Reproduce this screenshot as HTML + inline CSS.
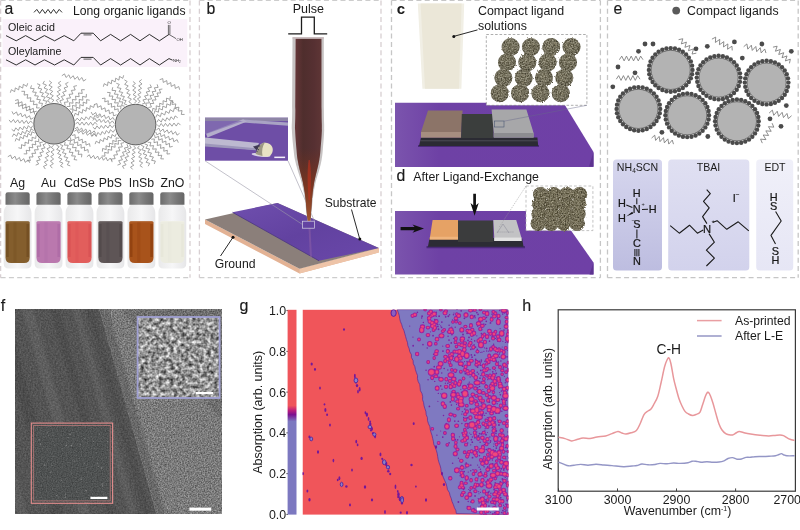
<!DOCTYPE html>
<html><head><meta charset="utf-8"><title>Figure</title>
<style>
html,body{margin:0;padding:0;background:#fff;}
body{width:800px;height:530px;overflow:hidden;}
svg{display:block;}
text{font-family:"Liberation Sans",Arial,sans-serif;fill:#1a1a1a;}
</style></head><body>
<svg width="800" height="530" viewBox="0 0 800 530">

<defs>
<filter id="nzfine" x="0" y="0" width="100%" height="100%"><feTurbulence type="fractalNoise" baseFrequency="0.9" numOctaves="2" seed="3"/><feColorMatrix type="matrix" values="0 0 0 0 0.5  0 0 0 0 0.5  0 0 0 0 0.5  1.2 0 0 0 -0.25"/></filter>
<filter id="nzfine2" x="0" y="0" width="100%" height="100%"><feTurbulence type="fractalNoise" baseFrequency="0.8" numOctaves="2" seed="8"/><feColorMatrix type="matrix" values="0 0 0 0 1  0 0 0 0 1  0 0 0 0 1  2.4 0 0 0 -0.95"/></filter>
<filter id="nzdark" x="0" y="0" width="100%" height="100%"><feTurbulence type="fractalNoise" baseFrequency="0.8" numOctaves="2" seed="11"/><feColorMatrix type="matrix" values="0 0 0 0 0  0 0 0 0 0  0 0 0 0 0  2.0 0 0 0 -0.85"/></filter>
<filter id="nzcoarse" x="0" y="0" width="100%" height="100%"><feTurbulence type="fractalNoise" baseFrequency="0.22" numOctaves="2" seed="5"/><feColorMatrix type="matrix" values="1.9 0 0 0 -0.25  1.9 0 0 0 -0.25  1.9 0 0 0 -0.25  0 0 0 0 1"/></filter>
<filter id="fuzz" x="-10%" y="-10%" width="120%" height="120%" color-interpolation-filters="sRGB"><feTurbulence type="fractalNoise" baseFrequency="0.75" numOctaves="2" seed="2" result="t"/><feDisplacementMap in="SourceGraphic" in2="t" scale="2.4" result="d"/><feColorMatrix in="t" type="matrix" values="1.5 0 0 0 -0.28  1.5 0 0 0 -0.3  1.5 0 0 0 -0.38  0 0 0 0 0.42" result="g"/><feComposite in="g" in2="d" operator="in" result="gi"/><feMerge><feMergeNode in="d"/><feMergeNode in="gi"/></feMerge></filter>
<filter id="blur1"><feGaussianBlur stdDeviation="0.6"/></filter>
<filter id="blur2"><feGaussianBlur stdDeviation="1.2"/></filter>
<linearGradient id="capg" x1="0" x2="1" y1="0" y2="0"><stop offset="0" stop-color="#6c6c6c"/><stop offset="0.4" stop-color="#8b8b8b"/><stop offset="0.7" stop-color="#767676"/><stop offset="1" stop-color="#666"/></linearGradient>
<linearGradient id="glassg" x1="0" x2="1" y1="0" y2="0"><stop offset="0" stop-color="#e9e9ea"/><stop offset="0.5" stop-color="#f6f6f7"/><stop offset="1" stop-color="#e6e6e8"/></linearGradient>
<linearGradient id="nozg" x1="0" x2="1" y1="0" y2="0"><stop offset="0" stop-color="#663638"/><stop offset="0.3" stop-color="#4f2e2d"/><stop offset="0.7" stop-color="#563032"/><stop offset="1" stop-color="#5f3636"/></linearGradient>
<linearGradient id="nozv" x1="0" x2="0" y1="0" y2="1"><stop offset="0" stop-color="#5a2020" stop-opacity="0"/><stop offset="0.6" stop-color="#7a3018" stop-opacity="0"/><stop offset="0.82" stop-color="#8a3a1c" stop-opacity="0.75"/><stop offset="1" stop-color="#a85a30" stop-opacity="0.95"/></linearGradient>
<linearGradient id="purb" x1="0" x2="1" y1="0" y2="1"><stop offset="0" stop-color="#6f4fae"/><stop offset="0.5" stop-color="#6242a0"/><stop offset="1" stop-color="#6a48aa"/></linearGradient>
<linearGradient id="box1" x1="0" x2="0" y1="0" y2="1"><stop offset="0" stop-color="#d6d6ee"/><stop offset="1" stop-color="#bdbde0"/></linearGradient>
<linearGradient id="box2" x1="0" x2="0" y1="0" y2="1"><stop offset="0" stop-color="#e0e0f2"/><stop offset="1" stop-color="#d2d2ec"/></linearGradient>
<linearGradient id="box3" x1="0" x2="0" y1="0" y2="1"><stop offset="0" stop-color="#f0f0f9"/><stop offset="1" stop-color="#e6e6f5"/></linearGradient>
<linearGradient id="cbar" x1="0" x2="0" y1="0" y2="1"><stop offset="0" stop-color="#ef555b"/><stop offset="0.468" stop-color="#ef555b"/><stop offset="0.49" stop-color="#c0207a"/><stop offset="0.512" stop-color="#7a1090"/><stop offset="0.545" stop-color="#7c78c0"/><stop offset="1" stop-color="#7c78c0"/></linearGradient>
<linearGradient id="purc" x1="0" x2="1" y1="0" y2="0"><stop offset="0" stop-color="#7b54ad"/><stop offset="0.22" stop-color="#6e41a5"/><stop offset="1" stop-color="#6f40a6"/></linearGradient>
<radialGradient id="sph" cx="0.45" cy="0.4" r="0.6"><stop offset="0" stop-color="#807c68"/><stop offset="1" stop-color="#625f50"/></radialGradient>
<radialGradient id="sph2" cx="0.45" cy="0.4" r="0.6"><stop offset="0" stop-color="#7a745c"/><stop offset="1" stop-color="#625c48"/></radialGradient>
</defs>
<path d="M0.6 0.4H190M0.6 277.7H190" stroke="#cdcdcd" stroke-width="1.3" stroke-dasharray="5 3.3" fill="none"/>
<path d="M0.6 0.4V277.7M190 0.4V277.7" stroke="#d8cfd2" stroke-width="1.3" stroke-dasharray="5 3.3" fill="none"/>
<path d="M199.4 0.4H381M199.4 277.7H381" stroke="#cdcdcd" stroke-width="1.3" stroke-dasharray="5 3.3" fill="none"/>
<path d="M199.4 0.4V277.7M381 0.4V277.7" stroke="#d8cfd2" stroke-width="1.3" stroke-dasharray="5 3.3" fill="none"/>
<path d="M391.5 0.4H600.4M391.5 277.7H600.4" stroke="#c6c6c6" stroke-width="1.3" stroke-dasharray="5 3.3" fill="none"/>
<path d="M391.5 0.4V277.7M600.4 0.4V277.7" stroke="#c6c6c6" stroke-width="1.3" stroke-dasharray="5 3.3" fill="none"/>
<path d="M607.5 0.4H798.2M607.5 277.7H798.2" stroke="#c6c6c6" stroke-width="1.3" stroke-dasharray="5 3.3" fill="none"/>
<path d="M607.5 0.4V277.7M798.2 0.4V277.7" stroke="#c6c6c6" stroke-width="1.3" stroke-dasharray="5 3.3" fill="none"/>
<g id="pa">
<rect x="2.5" y="19.2" width="184.8" height="47.8" fill="#faf1fa"/>
<text x="4.5" y="14.2" font-size="15.8" stroke="#1a1a1a" stroke-width="0.15">a</text>
<path d="M34 12.4 L36.8 9.4 L39.6 13.4 L42.4 9.4 L45.2 13.4 L48 9.4 L50.8 13.4 L53.6 9.4 L56.4 13.4 L59.2 9.4 L62 12.4" stroke="#333" stroke-width="1" fill="none" stroke-linejoin="round"/>
<text x="73" y="14.8" font-size="12.2">Long organic ligands</text>
<text x="8" y="31.2" font-size="10.7">Oleic acid</text>
<text x="8" y="55.3" font-size="10.7">Oleylamine</text>
<path d="M6 35.6 L16.2 40.8 L25.6 35.6 L35 40.8 L44.4 35.6 L54.6 40.8 L64.2 35.6 L73.8 40.8 L81 33.2 L93.2 33.2 L100.6 40.8 L110.6 34.4 L120.6 40.8 L130.6 34.4 L140 40.8 L149.4 34.4 L159.4 40.8 L169 34.4" stroke="#2e2e2e" stroke-width="1.0" fill="none" stroke-linejoin="round"/><path d="M83.5 34.9 H91.5" stroke="#2e2e2e" stroke-width="0.8"/>
<path d="M169 34.4 L176 38.6 M168.4 34.4 V24.9 M169.9 34.4 V24.9" stroke="#2e2e2e" stroke-width="0.7" fill="none"/>
<text x="169.1" y="24.2" font-size="4.2" text-anchor="middle">O</text>
<text x="176.4" y="41" font-size="4.2">OH</text>
<path d="M6 59.8 L16.2 65 L25.6 59.8 L35 65 L44.4 59.8 L54.6 65 L64.2 59.8 L73.8 65 L81 57.4 L93.2 57.4 L100.6 65 L110.6 58.6 L120.6 65 L130.6 58.6 L140 65 L149.4 58.6 L159.4 65 L169 58.6" stroke="#2e2e2e" stroke-width="1.0" fill="none" stroke-linejoin="round"/><path d="M83.5 59.1 H91.5" stroke="#2e2e2e" stroke-width="0.8"/>
<path d="M169 58.6 L172.6 60.2" stroke="#2e2e2e" stroke-width="1" fill="none"/>
<text x="173" y="62.2" font-size="4.2">NH<tspan font-size="3" dy="0.8">2</tspan></text>
<path d="M75.49 124.27 L77.68 121.98 L79.79 125.12 L82 122.05 L84.12 125.19 L86.33 122.12 L88.44 125.25 L90.65 122.19 L92.76 125.32 L94.97 122.26 L97.09 124.62 M74.88 128.92 L77.48 127.12 L78.88 130.61 L81.65 128.06 L83.05 131.55 L85.82 129 L87.22 132.49 L89.99 129.94 L91.39 133.44 L94.16 130.88 L95.73 133.62 M74.22 131.33 L76.98 129.61 L78.46 133.16 L81.4 130.68 L82.88 134.23 L85.83 131.76 L87.31 135.31 L90.26 132.83 L91.74 136.39 L94.68 133.91 L96.34 136.71 M72.02 135.51 L75.05 134.65 L75.22 138.41 L78.66 136.9 L78.82 140.65 L82.26 139.14 L82.43 142.89 L85.87 141.38 L86.04 145.13 L89.48 143.62 L90.06 146.71 M70.53 137.43 L70.83 140.56 L74.4 139.36 L74.23 143.12 L77.79 141.92 L77.63 145.67 L81.19 144.47 L81.02 148.22 L84.59 147.02 L84.42 150.78 L87.98 149.58 L88.28 152.71 M67.44 140.54 L70.63 140.72 L69.66 144.39 L73.44 144.07 L72.48 147.74 L76.26 147.43 L75.29 151.1 L79.07 150.78 L78.1 154.45 L81.88 154.13 L81.51 157.3 M65.2 142.04 L64.46 145.13 L68.24 145.21 L66.85 148.73 L70.63 148.81 L69.25 152.33 L73.02 152.41 L71.64 155.93 L75.42 156.01 L74.03 159.53 L77.16 160.04 M59.9 144.48 L62.86 145.6 L60.8 148.77 L64.48 149.61 L62.42 152.77 L66.11 153.61 L64.04 156.78 L67.73 157.62 L65.66 160.78 L69.35 161.62 L67.29 164.79 L70.25 165.92 M56.43 145.15 L59.18 146.68 L56.64 149.44 L60.14 150.79 L57.6 153.55 L61.09 154.91 L58.55 157.67 L62.05 159.02 L59.51 161.78 L63.01 163.14 L60.47 165.9 L63.21 167.42 M53.71 145.22 L51.25 147.37 L54.21 149.85 L50.97 151.96 L53.93 154.44 L50.69 156.55 L53.65 159.03 L50.42 161.14 L53.37 163.62 L50.14 165.72 L52.32 168.16 M48.64 144.53 L50.48 147.18 L47 148.78 L49.61 151.59 L46.13 153.18 L48.73 155.99 L45.25 157.59 L47.86 160.39 L44.38 161.99 L46.98 164.8 L43.51 166.4 L45.35 169.05 M45.95 143.56 L42.99 144.71 L45.07 147.87 L41.39 148.73 L43.47 151.89 L39.79 152.76 L41.86 155.91 L38.18 156.78 L40.26 159.94 L36.58 160.8 L38.66 163.96 L35.7 165.11 M42.9 142.09 L39.71 142.53 L40.91 146.15 L37.09 146.13 L38.29 149.76 L34.47 149.74 L35.67 153.36 L31.85 153.34 L33.05 156.97 L29.23 156.95 L30.43 160.57 L27.24 161.01 M38.62 138.6 L38.8 141.74 L35.09 141.1 L35.82 144.79 L32.11 144.15 L32.84 147.83 L29.14 147.19 L29.87 150.88 L26.16 150.24 L26.89 153.93 L23.74 153.82 M36.09 135.38 L35.65 138.53 L32.1 137.22 L32.11 141 L28.56 139.7 L28.56 143.48 L25.02 142.18 L25.02 145.95 L21.47 144.65 L21.48 148.43 L18.38 147.76 M34.79 133.08 L31.92 131.77 L31.17 135.45 L28 133.43 L27.24 137.11 L24.07 135.09 L23.32 138.78 L20.15 136.75 L19.39 140.44 L16.22 138.41 L15.16 141.38 M33.76 130.5 L30.96 128.89 L29.68 132.49 L26.66 130.14 L25.37 133.74 L22.36 131.39 L21.07 134.99 L18.06 132.64 L16.77 136.24 L13.75 133.89 L12.25 136.75 M32.73 125.69 L31.02 128.34 L28.39 125.65 L26.8 129.07 L24.17 126.37 L22.59 129.79 L19.96 127.1 L18.37 130.52 L15.74 127.82 L14.16 131.24 L11.66 129.31 M32.67 123.4 L30.7 120.91 L28.29 123.82 L26.39 120.55 L23.98 123.46 L22.07 120.19 L19.66 123.11 L17.76 119.84 L15.35 122.75 L13.44 119.48 L11.03 122.39 L9.07 119.9 M33.59 117.72 L30.78 119.32 L29.48 115.71 L26.45 118.05 L25.16 114.44 L22.12 116.78 L20.83 113.17 L17.79 115.51 L16.5 111.91 L13.46 114.25 L11.95 111.38 M34.78 114.52 L33.95 111.4 L30.48 113.02 L30.02 109.23 L26.56 110.85 L26.1 107.05 L22.64 108.68 L22.18 104.88 L18.71 106.51 L18.25 102.71 L15.17 103.66 M36.74 111.17 L33.68 112.09 L33.33 108.31 L29.89 109.9 L29.54 106.12 L26.09 107.71 L25.74 103.93 L22.29 105.52 L21.94 101.74 L18.5 103.33 L18.15 99.55 L15.09 100.47 M39.74 107.91 L36.51 107.93 L37.17 104.16 L33.38 104.71 L34.04 100.94 L30.25 101.5 L30.91 97.73 L27.13 98.28 L27.78 94.52 L24 95.07 L24.66 91.3 L21.43 91.32 M41.56 106.37 L42.55 103.39 L38.81 103.07 L40.47 99.71 L36.74 99.39 L38.4 96.03 L34.66 95.72 L36.32 92.35 L32.59 92.04 L34.25 88.68 L30.51 88.36 L31.5 85.38 M45.55 104.18 L46.85 101.25 L43.15 100.39 L45.17 97.16 L41.46 96.3 L43.48 93.07 L39.77 92.21 L41.79 88.98 L38.08 88.12 L40.1 84.9 L37.11 83.74 M50.39 102.67 L47.56 101.09 L49.97 98.11 L46.39 96.74 L48.8 93.76 L45.22 92.39 L47.63 89.41 L44.06 88.03 L46.47 85.05 L42.89 83.68 L44.55 80.9 M51.82 102.55 L53.85 100.09 L50.51 98.29 L53.31 95.73 L49.97 93.93 L52.77 91.37 L49.43 89.58 L52.23 87.02 L48.89 85.22 L51.69 82.66 L49.12 80.77 M58.3 102.77 L56.25 100.34 L59.58 98.54 L56.76 96.02 L60.09 94.22 L57.27 91.7 L60.61 89.91 L57.78 87.38 L61.12 85.59 L58.29 83.07 L60.86 81.18 M61.32 103.65 L59.82 100.78 L63.47 99.63 L61.24 96.52 L64.89 95.36 L62.65 92.25 L66.3 91.09 L64.07 87.98 L67.72 86.83 L65.49 83.72 L68.4 82.32 M65.19 105.5 L64.36 102.34 L68.2 101.92 L66.7 98.36 L70.54 97.94 L69.04 94.39 L72.88 93.97 L71.37 90.41 L75.22 89.99 L73.71 86.43 L76.89 85.62 M66.82 106.49 L70.04 106.46 L69.31 102.71 L73.09 103.21 L72.36 99.46 L76.15 99.96 L75.42 96.21 L79.2 96.71 L78.47 92.96 L82.26 93.46 L81.52 89.71 L84.74 89.68 M69.58 109.01 L72.82 109.24 L72.43 105.42 L76.18 106.23 L75.8 102.41 L79.55 103.22 L79.16 99.4 L82.91 100.21 L82.53 96.39 L86.28 97.2 L86.41 93.96 M72.53 112.81 L72.88 109.68 L76.43 110.92 L76.31 107.16 L79.86 108.41 L79.75 104.65 L83.3 105.89 L83.18 102.13 L86.73 103.38 L86.62 99.62 L89.71 100.24 M74.24 116.35 L75.1 113.32 L78.39 115.13 L78.9 111.4 L82.2 113.21 L82.71 109.49 L86.01 111.3 L86.52 107.57 L89.81 109.38 L90.32 105.65 L93.62 107.47 L94.48 104.43 M75.29 120.81 L77.15 118.16 L79.86 120.87 L81.61 117.46 L84.32 120.18 L86.06 116.76 L88.77 119.48 L90.52 116.07 L93.22 118.78 L94.97 115.37 L97.68 118.08 L99.55 115.44 M156.96 124.47 L159.18 126.71 L161.2 123.53 L163.45 126.55 L165.47 123.37 L167.71 126.39 L169.73 123.22 L171.98 126.23 L174 123.06 L176.25 126.07 L178.26 122.9 L180.48 125.14 M156.34 129.94 L158.91 128.12 L160.34 131.59 L163.07 129.01 L164.5 132.48 L167.23 129.9 L168.66 133.38 L171.39 130.79 L172.83 134.27 L175.56 131.68 L176.99 135.16 L179.56 133.33 M155.71 131.96 L156.95 134.96 L160.21 132.92 L161.17 136.65 L164.42 134.61 L165.38 138.33 L168.64 136.3 L169.6 140.02 L172.86 137.98 L173.81 141.71 L177.07 139.67 L178.32 142.67 M154.55 134.65 L155.11 137.77 L158.6 136.34 L158.73 140.11 L162.23 138.68 L162.36 142.46 L165.86 141.02 L165.99 144.8 L169.49 143.36 L169.62 147.14 L172.69 146.36 M151.23 139.24 L154.39 138.91 L153.97 142.67 L157.64 141.76 L157.22 145.51 L160.89 144.61 L160.47 148.36 L164.14 147.45 L163.72 151.21 L167.39 150.3 L166.97 154.06 L170.13 153.73 M147.74 142.3 L150.87 142.4 L149.88 146.01 L153.6 145.6 L152.6 149.21 L156.33 148.81 L155.33 152.42 L159.05 152.01 L158.06 155.62 L161.78 155.21 L160.78 158.82 L163.92 158.92 M144.65 143.98 L147.7 144.99 L145.86 148.32 L149.61 148.99 L147.77 152.33 L151.53 153 L149.68 156.34 L153.44 157.01 L151.59 160.35 L155.35 161.01 L154.2 164.02 M141.16 145.3 L144.07 146.65 L141.83 149.73 L145.47 150.83 L143.24 153.91 L146.88 155.01 L144.64 158.09 L148.29 159.19 L146.05 162.27 L149.69 163.37 L148.19 166.2 M139.48 145.67 L137.48 148.15 L140.85 149.9 L138.09 152.49 L141.46 154.23 L138.69 156.83 L142.06 158.57 L139.29 161.16 L142.66 162.91 L139.89 165.5 L142.5 167.35 M133.64 145.88 L135.71 148.26 L132.39 150.04 L135.24 152.5 L131.92 154.28 L134.77 156.74 L131.45 158.52 L134.29 160.98 L130.98 162.76 L133.82 165.22 L130.5 167 L132.58 169.38 M129.59 145.12 L131.17 147.9 L127.57 149.12 L129.89 152.13 L126.29 153.34 L128.61 156.35 L125.01 157.57 L127.33 160.58 L123.73 161.8 L126.05 164.81 L122.45 166.02 L124.03 168.81 M126.96 144.15 L128.13 147.21 L124.36 148.02 L126.24 151.4 L122.47 152.21 L124.34 155.58 L120.57 156.4 L122.45 159.77 L118.68 160.59 L120.56 163.96 L117.49 165.1 M124.06 142.58 L120.88 143.33 L122.34 146.9 L118.5 147.24 L119.95 150.81 L116.11 151.16 L117.57 154.72 L113.73 155.07 L115.18 158.64 L111.35 158.98 L112.14 162.15 M121.39 140.71 L118.16 140.45 L118.51 144.27 L114.77 143.43 L115.13 147.25 L111.39 146.41 L111.74 150.22 L108 149.38 L108.36 153.2 L104.62 152.36 L104.97 156.18 L101.74 155.92 M119.2 138.36 L116.08 137.86 L116.32 141.62 L112.72 140.51 L112.96 144.27 L109.35 143.16 L109.59 146.92 L105.99 145.82 L106.23 149.58 L102.63 148.47 L102.39 151.62 M116.25 133.62 L115.17 136.59 L112 134.56 L111.22 138.24 L108.05 136.21 L107.27 139.89 L104.11 137.86 L103.33 141.54 L100.16 139.51 L99.38 143.19 L96.21 141.16 L95.14 144.13 M114.82 129.57 L113.21 132.3 L110.45 129.72 L109.01 133.21 L106.25 130.64 L104.81 134.12 L102.06 131.55 L100.61 135.03 L97.86 132.46 L96.42 135.94 L93.66 133.37 L92.05 136.1 M114.18 125.17 L112.23 127.67 L109.83 124.77 L107.95 128.04 L105.55 125.13 L103.67 128.41 L101.27 125.5 L99.39 128.77 L96.99 125.87 L95.11 129.14 L92.77 127 M114.17 123.49 L112.36 120.87 L109.76 123.62 L108.06 120.24 L105.46 122.99 L103.76 119.61 L101.16 122.36 L99.46 118.98 L96.86 121.73 L95.16 118.35 L92.67 120.34 M114.58 120.34 L113.05 117.48 L110.03 119.85 L108.72 116.25 L105.7 118.61 L104.38 115.01 L101.36 117.38 L100.04 113.78 L97.03 116.14 L95.71 112.54 L92.69 114.91 L91.16 112.05 M116.61 114.78 L113.53 115.79 L112.97 112 L109.54 113.7 L108.98 109.91 L105.54 111.61 L104.99 107.82 L101.55 109.51 L100.99 105.72 L97.56 107.42 L97 103.63 L93.92 104.64 M118.31 111.95 L118.14 108.81 L114.55 109.87 L114.88 106.14 L111.28 107.2 L111.61 103.46 L108.01 104.52 L108.34 100.79 L104.75 101.85 L105.08 98.11 L101.97 98.57 M120.59 109.26 L121.06 106.12 L117.29 106.36 L118.36 102.74 L114.59 102.98 L115.67 99.36 L111.9 99.61 L112.97 95.98 L109.2 96.23 L110.28 92.61 L107.11 92.37 M124.69 106.18 L121.53 105.52 L122.96 101.98 L119.15 101.73 L120.58 98.18 L116.76 97.94 L118.19 94.39 L114.38 94.14 L115.81 90.6 L111.99 90.35 L112.77 87.22 M127.16 104.96 L124.16 103.83 L126.16 100.6 L122.45 99.78 L124.45 96.55 L120.73 95.72 L122.73 92.49 L119.02 91.67 L121.02 88.44 L117.31 87.62 L119.31 84.38 L116.31 83.26 M131.64 103.55 L128.85 101.9 L131.34 98.99 L127.81 97.53 L130.3 94.62 L126.76 93.15 L129.25 90.24 L125.72 88.78 L128.21 85.87 L124.67 84.4 L127.16 81.5 L124.38 79.85 M134.42 103.26 L136.6 100.92 L133.35 98.95 L136.3 96.56 L133.06 94.59 L136 92.2 L132.76 90.22 L135.71 87.83 L132.47 85.86 L135.41 83.47 L132.94 81.45 M137.7 103.32 L140.24 101.38 L137.38 98.88 L140.68 97.02 L137.82 94.53 L141.13 92.67 L138.27 90.18 L141.57 88.32 L138.71 85.83 L142.02 83.97 L139.16 81.48 L141.69 79.54 M142.04 104.14 L145 103.05 L142.93 99.91 L146.61 99.12 L144.55 95.98 L148.22 95.19 L146.16 92.04 L149.83 91.25 L147.77 88.11 L151.45 87.32 L150.1 84.47 M146.66 106.27 L145.71 103.21 L149.49 102.8 L147.86 99.36 L151.64 98.95 L150.01 95.51 L153.8 95.1 L152.17 91.66 L155.95 91.25 L154.32 87.81 L158.1 87.4 L157.15 84.34 M148.34 107.48 L151.44 107 L150.01 103.54 L153.75 103.49 L152.32 100.02 L156.07 99.98 L154.64 96.51 L158.39 96.46 L156.96 93 L160.7 92.95 L159.28 89.49 L162.37 89.01 M152.49 111.5 L152.8 108.36 L156.36 109.56 L156.21 105.8 L159.78 107.01 L159.62 103.25 L163.19 104.45 L163.03 100.69 L166.6 101.89 L166.45 98.13 L170.01 99.34 L170.32 96.2 M154.06 113.82 L154.89 110.66 L158.42 112.21 L158.86 108.38 L162.39 109.93 L162.84 106.1 L166.37 107.65 L166.81 103.82 L170.34 105.37 L170.78 101.54 L173.93 102.41 M155.8 117.53 L157.14 114.54 L160.39 116.62 L161.45 112.9 L164.71 114.98 L165.77 111.26 L169.02 113.35 L170.08 109.63 L173.34 111.71 L174.4 107.99 L177.38 109.35 M156.93 122.18 L158.52 119.47 L161.24 122.05 L162.67 118.58 L165.4 121.16 L166.83 117.69 L169.55 120.27 L170.98 116.8 L173.71 119.38 L175.14 115.91 L177.7 117.74 M61.84 75.78 L64.51 73.89 L66.04 77.48 L68.87 74.8 L70.4 78.38 L73.24 75.71 L74.76 79.29 L77.6 76.62 L79.13 80.2 L81.96 77.52 L83.49 81.11 L86.16 79.22 M7.79 156.77 L10.62 155.06 L11.98 158.74 L15.02 156.26 L16.38 159.94 L19.42 157.46 L20.78 161.14 L23.82 158.66 L25.18 162.34 L28.22 159.86 L29.79 162.77 M86.87 156.79 L89.34 154.75 L90.91 158.25 L93.5 155.42 L95.08 158.91 L97.67 156.09 L99.25 159.58 L101.84 156.75 L103.41 160.25 L106 157.42 L107.58 160.91 L110.17 158.09 L111.87 160.79 M103.34 86.72 L104.22 83.65 L107.51 85.63 L108.04 81.83 L111.32 83.81 L111.86 80.01 L115.14 81.99 L115.68 78.19 L118.96 80.17 L119.49 76.37 L122.78 78.35 L123.66 75.28 M159.64 79.72 L162.72 78.57 L163.28 82.43 L166.72 80.57 L167.28 84.43 L170.72 82.57 L171.28 86.43 L174.72 84.57 L175.28 88.43 L178.72 86.57 L179.64 89.72 M169.42 100.55 L172.73 100.57 L171.94 104.43 L175.84 103.91 L175.05 107.76 L178.95 107.24 L178.16 111.09 L182.06 110.57 L181.27 114.43 L184.58 114.45 M10.32 92.73 L11.35 89.65 L14.65 91.68 L15.35 87.87 L18.65 89.91 L19.35 86.09 L22.65 88.13 L23.35 84.32 L26.65 86.35 L27.68 83.27" stroke="#848484" stroke-width="0.75" fill="none" stroke-linejoin="round"/>
<circle cx="54.1" cy="123.8" r="20.3" fill="#b4b4b4" stroke="#444" stroke-width="0.8"/>
<circle cx="135.6" cy="124.6" r="20.3" fill="#b4b4b4" stroke="#444" stroke-width="0.8"/>
<text x="17.6" y="187" font-size="12.3" text-anchor="middle">Ag</text>
<path d="M7.1 203 C7.1 207 3.7 207 3.7 213 V263.5 Q3.7 268.6 8.7 268.6 H26.5 Q31.5 268.6 31.5 263.5 V213 C31.5 207 28.1 207 28.1 203 Z" fill="url(#glassg)"/>
<path d="M5.5 222.5 Q5.5 221 7 221 H28.2 Q29.7 221 29.7 222.5 V257.5 Q29.7 263 24.2 263 H11 Q5.5 263 5.5 257.5 Z" fill="#845e2d"/>
<rect x="6.1" y="224" width="2.6" height="33" fill="#6a481c" opacity="0.6"/>
<rect x="26.5" y="224" width="2.6" height="33" fill="#6a481c" opacity="0.6"/>
<rect x="13.5" y="222" width="3" height="40" fill="#6a481c" opacity="0.25"/>
<rect x="5.5" y="221" width="24.2" height="1.2" fill="#fff" opacity="0.18"/>
<path d="M5.5 204.8 V194.6 Q5.5 192.2 7.9 192.2 H27.3 Q29.7 192.2 29.7 194.6 V204.8 Z" fill="url(#capg)"/>
<text x="48.55" y="187" font-size="12.3" text-anchor="middle">Au</text>
<path d="M38.05 203 C38.05 207 34.65 207 34.65 213 V263.5 Q34.65 268.6 39.65 268.6 H57.45 Q62.45 268.6 62.45 263.5 V213 C62.45 207 59.05 207 59.05 203 Z" fill="url(#glassg)"/>
<path d="M36.45 222.5 Q36.45 221 37.95 221 H59.15 Q60.65 221 60.65 222.5 V257.5 Q60.65 263 55.15 263 H41.95 Q36.45 263 36.45 257.5 Z" fill="#ba78ae"/>
<rect x="37.05" y="224" width="2.6" height="33" fill="#a866a2" opacity="0.6"/>
<rect x="57.45" y="224" width="2.6" height="33" fill="#a866a2" opacity="0.6"/>
<rect x="44.45" y="222" width="3" height="40" fill="#a866a2" opacity="0.25"/>
<rect x="36.45" y="221" width="24.2" height="1.2" fill="#fff" opacity="0.18"/>
<path d="M36.45 204.8 V194.6 Q36.45 192.2 38.85 192.2 H58.25 Q60.65 192.2 60.65 194.6 V204.8 Z" fill="url(#capg)"/>
<text x="79.5" y="187" font-size="12.3" text-anchor="middle">CdSe</text>
<path d="M69 203 C69 207 65.6 207 65.6 213 V263.5 Q65.6 268.6 70.6 268.6 H88.4 Q93.4 268.6 93.4 263.5 V213 C93.4 207 90 207 90 203 Z" fill="url(#glassg)"/>
<path d="M67.4 222.5 Q67.4 221 68.9 221 H90.1 Q91.6 221 91.6 222.5 V257.5 Q91.6 263 86.1 263 H72.9 Q67.4 263 67.4 257.5 Z" fill="#e25e5c"/>
<rect x="68" y="224" width="2.6" height="33" fill="#d64c50" opacity="0.6"/>
<rect x="88.4" y="224" width="2.6" height="33" fill="#d64c50" opacity="0.6"/>
<rect x="75.4" y="222" width="3" height="40" fill="#d64c50" opacity="0.25"/>
<rect x="67.4" y="221" width="24.2" height="1.2" fill="#fff" opacity="0.18"/>
<path d="M67.4 204.8 V194.6 Q67.4 192.2 69.8 192.2 H89.2 Q91.6 192.2 91.6 194.6 V204.8 Z" fill="url(#capg)"/>
<text x="110.45" y="187" font-size="12.3" text-anchor="middle">PbS</text>
<path d="M99.95 203 C99.95 207 96.55 207 96.55 213 V263.5 Q96.55 268.6 101.55 268.6 H119.35 Q124.35 268.6 124.35 263.5 V213 C124.35 207 120.95 207 120.95 203 Z" fill="url(#glassg)"/>
<path d="M98.35 222.5 Q98.35 221 99.85 221 H121.05 Q122.55 221 122.55 222.5 V257.5 Q122.55 263 117.05 263 H103.85 Q98.35 263 98.35 257.5 Z" fill="#5e5556"/>
<rect x="98.95" y="224" width="2.6" height="33" fill="#4c4546" opacity="0.6"/>
<rect x="119.35" y="224" width="2.6" height="33" fill="#4c4546" opacity="0.6"/>
<rect x="106.35" y="222" width="3" height="40" fill="#4c4546" opacity="0.25"/>
<rect x="98.35" y="221" width="24.2" height="1.2" fill="#fff" opacity="0.18"/>
<path d="M98.35 204.8 V194.6 Q98.35 192.2 100.75 192.2 H120.15 Q122.55 192.2 122.55 194.6 V204.8 Z" fill="url(#capg)"/>
<text x="141.4" y="187" font-size="12.3" text-anchor="middle">InSb</text>
<path d="M130.9 203 C130.9 207 127.5 207 127.5 213 V263.5 Q127.5 268.6 132.5 268.6 H150.3 Q155.3 268.6 155.3 263.5 V213 C155.3 207 151.9 207 151.9 203 Z" fill="url(#glassg)"/>
<path d="M129.3 222.5 Q129.3 221 130.8 221 H152 Q153.5 221 153.5 222.5 V257.5 Q153.5 263 148 263 H134.8 Q129.3 263 129.3 257.5 Z" fill="#a8531b"/>
<rect x="129.9" y="224" width="2.6" height="33" fill="#86390c" opacity="0.6"/>
<rect x="150.3" y="224" width="2.6" height="33" fill="#86390c" opacity="0.6"/>
<rect x="137.3" y="222" width="3" height="40" fill="#86390c" opacity="0.25"/>
<rect x="129.3" y="221" width="24.2" height="1.2" fill="#fff" opacity="0.18"/>
<path d="M129.3 204.8 V194.6 Q129.3 192.2 131.7 192.2 H151.1 Q153.5 192.2 153.5 194.6 V204.8 Z" fill="url(#capg)"/>
<text x="172.35" y="187" font-size="12.3" text-anchor="middle">ZnO</text>
<path d="M161.85 203 C161.85 207 158.45 207 158.45 213 V263.5 Q158.45 268.6 163.45 268.6 H181.25 Q186.25 268.6 186.25 263.5 V213 C186.25 207 182.85 207 182.85 203 Z" fill="url(#glassg)"/>
<path d="M160.25 222.5 Q160.25 221 161.75 221 H182.95 Q184.45 221 184.45 222.5 V257.5 Q184.45 263 178.95 263 H165.75 Q160.25 263 160.25 257.5 Z" fill="#ecece0"/>
<rect x="160.85" y="224" width="2.6" height="33" fill="#e4e4d6" opacity="0.6"/>
<rect x="181.25" y="224" width="2.6" height="33" fill="#e4e4d6" opacity="0.6"/>
<rect x="168.25" y="222" width="3" height="40" fill="#e4e4d6" opacity="0.25"/>
<rect x="160.25" y="221" width="24.2" height="1.2" fill="#fff" opacity="0.18"/>
<path d="M160.25 204.8 V194.6 Q160.25 192.2 162.65 192.2 H182.05 Q184.45 192.2 184.45 194.6 V204.8 Z" fill="url(#capg)"/>
</g>
<g id="pb">
<text x="206.5" y="14" font-size="15.8" stroke="#1a1a1a" stroke-width="0.15">b</text>
<text x="308.4" y="12.8" font-size="12.5" text-anchor="middle">Pulse</text>
<path d="M288.2 33.8 H301.5 V17.2 H314.3 V33.8 H327.2" stroke="#1c1c1c" stroke-width="1.3" fill="none"/>
<path d="M205 219.5 L299.5 268.8 L378.8 248 V252.6 L299.5 273.40000000000003 L205 224.1 Z" fill="#e3b294"/>
<path d="M299.5 268.8 L378.8 248 V252.6 L299.5 273.40000000000003 Z" fill="#eec4a8"/>
<path d="M205 219.5 L277.5 203 L378.8 248 L299.5 268.8 Z" fill="#8b7f7a"/>
<path d="M232.5 212.3 L277.5 203 L378.8 248 L319 260.8 Z" fill="url(#purb)"/>
<path d="M232.5 212.3 L319 260.8" stroke="#4a3580" stroke-width="0.8"/>
<path d="M308.5 228 L310 258 L312 258 L310.5 228 Z" fill="#9a6aa8" opacity="0.4"/>
<path d="M205 160.8 L302.5 224.5 M288 160.8 L314.5 221" stroke="#9a98a8" stroke-width="0.6" fill="none"/>
<path d="M292.5 37.5 C292.45 49.58 292.3 94.58 292.2 110 C292.1 125.42 291.67 123.33 291.9 130 C292.13 136.67 293.08 145 293.6 150 C294.12 155 294.33 156.67 295 160 C295.67 163.33 296.57 166.45 297.6 170 C298.63 173.55 300.17 177.53 301.2 181.3 C302.23 185.07 303.1 188.82 303.8 192.6 C304.5 196.38 304.93 200.22 305.4 204 C305.87 207.78 306.23 212.47 306.6 215.3 C306.97 218.13 307.43 220.05 307.6 221 L310.5 221 C310.63 220.05 311 218.13 311.3 215.3 C311.6 212.47 311.92 207.78 312.3 204 C312.68 200.22 313.02 196.38 313.6 192.6 C314.18 188.82 314.87 185.07 315.8 181.3 C316.73 177.53 318.23 173.55 319.2 170 C320.17 166.45 321 163.33 321.6 160 C322.2 156.67 322.37 155 322.8 150 C323.23 145 324.02 136.67 324.2 130 C324.38 123.33 323.97 125.42 323.9 110 C323.83 94.58 323.82 49.58 323.8 37.5 Z" fill="#c6c2c2"/>
<path d="M295.63 38.6 C295.59 50.5 295.45 94.77 295.37 110 C295.29 125.23 294.94 123.33 295.13 130 C295.32 136.67 296.1 145 296.52 150 C296.94 155 297.12 156.67 297.66 160 C298.2 163.33 298.93 166.45 299.76 170 C300.59 173.55 301.82 177.53 302.66 181.3 C303.5 185.07 304.21 188.82 304.78 192.6 C305.35 196.38 305.71 200.22 306.09 204 C306.47 207.78 306.77 212.47 307.07 215.3 C307.37 218.13 307.75 220.05 307.89 221 L310.21 221 C310.31 220.05 310.6 218.13 310.83 215.3 C311.06 212.47 311.31 207.78 311.61 204 C311.91 200.22 312.17 196.38 312.62 192.6 C313.07 188.82 313.6 185.07 314.34 181.3 C315.08 177.53 316.22 173.55 317.04 170 C317.86 166.45 318.71 163.33 319.28 160 C319.85 156.67 320.05 155 320.48 150 C320.91 145 321.7 136.67 321.88 130 C322.06 123.33 321.65 125.23 321.58 110 C321.51 94.77 321.5 50.5 321.48 38.6 Z" fill="url(#nozg)"/>
<path d="M295.63 38.6 C295.59 50.5 295.45 94.77 295.37 110 C295.29 125.23 294.94 123.33 295.13 130 C295.32 136.67 296.1 145 296.52 150 C296.94 155 297.12 156.67 297.66 160 C298.2 163.33 298.93 166.45 299.76 170 C300.59 173.55 301.82 177.53 302.66 181.3 C303.5 185.07 304.21 188.82 304.78 192.6 C305.35 196.38 305.71 200.22 306.09 204 C306.47 207.78 306.77 212.47 307.07 215.3 C307.37 218.13 307.75 220.05 307.89 221 L310.21 221 C310.31 220.05 310.6 218.13 310.83 215.3 C311.06 212.47 311.31 207.78 311.61 204 C311.91 200.22 312.17 196.38 312.62 192.6 C313.07 188.82 313.6 185.07 314.34 181.3 C315.08 177.53 316.22 173.55 317.04 170 C317.86 166.45 318.71 163.33 319.28 160 C319.85 156.67 320.05 155 320.48 150 C320.91 145 321.7 136.67 321.88 130 C322.06 123.33 321.65 125.23 321.58 110 C321.51 94.77 321.5 50.5 321.48 38.6 Z" fill="url(#nozv)"/>
<path d="M308.6 160 C307 172 307.6 186 308.5 200 L310 200 C311 186 311.5 172 309.8 160 Z" fill="#c2301f" opacity="0.6" filter="url(#blur1)"/>
<rect x="292.5" y="37.1" width="31.3" height="1.6" fill="#c9babc"/>
<rect x="302.6" y="221.2" width="11.9" height="7" fill="none" stroke="#d8d4e4" stroke-width="0.7"/>
<g>
<rect x="205" y="117.7" width="83" height="43" fill="#6e4ea6"/>
<rect x="205" y="117.7" width="83" height="3.4" fill="#8e86a6"/>
<path d="M243 119.5 L288 122.6 V125.8 L243 122.5 Z" fill="#a9a3c4"/>
<path d="M206 133.5 L243 119.3 L247 121.5 L207.5 137.5 Z" fill="#b4aecb"/>
<path d="M205 137.5 L259 143 L256 150 L205 145.5 Z" fill="#bdb9d0"/>
<path d="M205 143.5 L256 148.2 L256 150.3 L205 146.5 Z" fill="#9d97ba"/>
<path d="M205 121.1 L243 121.1 L206 134 L205 134 Z" fill="#8674b4" opacity="0.7"/>
<ellipse cx="261" cy="155" rx="9.5" ry="1.8" fill="#d6cfe6" transform="rotate(6 261 155)"/>
<path d="M253 146.5 L260 144.5 L259 153 Z" fill="#403a55"/>
<path d="M258.6 147.5 C260 142.8 267.5 140.4 271.3 145.6 C273.8 148.8 273.1 153.1 270 156 C265 157.3 258.8 156.3 255.5 153.8 Z" fill="#e8e2c4"/>
<path d="M258.6 147.5 C260 144.5 262.5 142.8 265 142.3 C262.5 146 261.5 151 262.5 156 C260 155.6 257.3 154.9 255.5 153.8 Z" fill="#9d9884"/>
<g fill="#3c384a"><circle cx="256.5" cy="147.5" r="0.8"/><circle cx="258.3" cy="149.6" r="0.7"/><circle cx="257" cy="151.6" r="0.6"/><circle cx="259.6" cy="146" r="0.6"/></g>
<rect x="274.3" y="156.6" width="10.8" height="1.5" fill="#f4f0fa"/>
</g>
<text x="324.8" y="207" font-size="12.1">Substrate</text>
<path d="M351.5 209.5 L359.6 238.5" stroke="#111" stroke-width="0.9"/><circle cx="359.8" cy="239" r="1.5" fill="#111"/>
<text x="214.8" y="267.6" font-size="12.2">Ground</text>
<path d="M220.5 256 L232.8 237.6" stroke="#111" stroke-width="0.9"/><circle cx="233" cy="237.2" r="1.5" fill="#111"/>
</g>
<g id="pcd">
<text x="396.8" y="13.8" font-size="15" font-weight="bold">c</text>
<path d="M417.8 3.4 H464.2 L461.4 88.7 H422.4 Z" fill="#f1efe5"/>
<path d="M420.6 3.4 H461.6 L459 88.7 H425 Z" fill="#ebe7d8"/>
<text x="478" y="14.9" font-size="12.4">Compact ligand</text>
<text x="478" y="29.8" font-size="12.4">solutions</text>
<path d="M454 36.3 L477.5 29.9" stroke="#111" stroke-width="0.9"/><circle cx="453.8" cy="36.4" r="1.5" fill="#111"/>
<path d="M395 102.8 H563.5 L593.5 152 V167 H395 Z" fill="url(#purc)"/>
<path d="M593.5 152 V166.6 H589 Z" fill="#5d3390"/>
<path d="M418 145 H539 V147 H418 Z" fill="#4a2a78" filter="url(#blur1)"/><path d="M421 137.6 H537.4 L538.2 146 H419 Z" fill="#2b2b33"/>
<path d="M420.3 140.8 H537.8" stroke="#565660" stroke-width="0.8"/>
<path d="M428 110.6 H462.6 L461 137.4 H421 V132 Z" fill="#8c7468"/>
<path d="M421 132 H461.2 L461 137.4 H421 Z" fill="#a68e80"/>
<path d="M461.8 114 H493.6 V138 H461 Z" fill="#3b3e3d"/>
<path d="M491.6 109.4 H526.4 L533.6 133 V137.4 H493.8 V133 Z" fill="#a7a7a9"/>
<path d="M493.8 133 H533.6 V137.4 H493.8 Z" fill="#8c8c90"/>
<rect x="486.3" y="34.5" width="100.6" height="70.8" fill="#fff" stroke="#777" stroke-width="0.6" stroke-dasharray="2.6 1.8"/>
<g filter="url(#fuzz)">
<circle cx="510.6" cy="47" r="9.0" fill="url(#sph)"/>
<circle cx="530.9" cy="47" r="9.0" fill="url(#sph)"/>
<circle cx="551.2" cy="47" r="9.0" fill="url(#sph)"/>
<circle cx="571.5" cy="47" r="9.0" fill="url(#sph)"/>
<circle cx="507" cy="62.4" r="9.0" fill="url(#sph)"/>
<circle cx="527.3" cy="62.4" r="9.0" fill="url(#sph)"/>
<circle cx="547.6" cy="62.4" r="9.0" fill="url(#sph)"/>
<circle cx="567.9" cy="62.4" r="9.0" fill="url(#sph)"/>
<circle cx="503.4" cy="77.8" r="9.0" fill="url(#sph)"/>
<circle cx="523.7" cy="77.8" r="9.0" fill="url(#sph)"/>
<circle cx="544" cy="77.8" r="9.0" fill="url(#sph)"/>
<circle cx="564.3" cy="77.8" r="9.0" fill="url(#sph)"/>
<circle cx="499.8" cy="93.2" r="9.0" fill="url(#sph)"/>
<circle cx="520.1" cy="93.2" r="9.0" fill="url(#sph)"/>
<circle cx="540.4" cy="93.2" r="9.0" fill="url(#sph)"/>
<circle cx="560.7" cy="93.2" r="9.0" fill="url(#sph)"/>
</g>
<g opacity="0.7"><circle cx="511.08" cy="53.29" r="0.96" fill="#5a5443"/><circle cx="504.17" cy="48.07" r="0.95" fill="#4e4838"/><circle cx="504.37" cy="48.23" r="1" fill="#a09880"/><circle cx="502.92" cy="48.46" r="0.7" fill="#928a70"/><circle cx="533.54" cy="43.84" r="0.93" fill="#a09880"/><circle cx="523.61" cy="45.94" r="0.58" fill="#4e4838"/><circle cx="532.6" cy="46.53" r="0.91" fill="#4e4838"/><circle cx="530.1" cy="53.55" r="0.86" fill="#928a70"/><circle cx="555.92" cy="44.43" r="0.98" fill="#928a70"/><circle cx="554.64" cy="50.86" r="0.57" fill="#4e4838"/><circle cx="552.94" cy="55.22" r="0.89" fill="#928a70"/><circle cx="554.6" cy="42.61" r="0.79" fill="#928a70"/><circle cx="566.16" cy="45.85" r="0.95" fill="#a09880"/><circle cx="568.07" cy="39.51" r="1" fill="#5a5443"/><circle cx="569.85" cy="43.96" r="0.98" fill="#5a5443"/><circle cx="576.82" cy="43.35" r="0.82" fill="#a09880"/><circle cx="511.41" cy="62.06" r="0.53" fill="#4e4838"/><circle cx="512.15" cy="55.63" r="0.67" fill="#4e4838"/><circle cx="514.4" cy="65.69" r="0.65" fill="#4e4838"/><circle cx="507.92" cy="54.47" r="0.8" fill="#4e4838"/><circle cx="527.67" cy="57.16" r="0.78" fill="#5a5443"/><circle cx="531.28" cy="60.26" r="1" fill="#a09880"/><circle cx="526.43" cy="64.61" r="0.97" fill="#4e4838"/><circle cx="531.84" cy="61.56" r="0.58" fill="#5a5443"/><circle cx="555.28" cy="64.5" r="0.68" fill="#5a5443"/><circle cx="552.73" cy="68.46" r="0.73" fill="#928a70"/><circle cx="540.79" cy="61.55" r="0.81" fill="#4e4838"/><circle cx="553.26" cy="60.16" r="0.82" fill="#928a70"/><circle cx="566.11" cy="54.32" r="0.99" fill="#928a70"/><circle cx="561.62" cy="61.57" r="0.89" fill="#4e4838"/><circle cx="572.68" cy="62.01" r="0.81" fill="#928a70"/><circle cx="566.48" cy="60.86" r="0.73" fill="#5a5443"/><circle cx="501.21" cy="73.22" r="0.87" fill="#5a5443"/><circle cx="505.48" cy="78.09" r="0.98" fill="#4e4838"/><circle cx="503.36" cy="83.58" r="0.59" fill="#5a5443"/><circle cx="506.35" cy="84.63" r="0.65" fill="#5a5443"/><circle cx="518.32" cy="83.05" r="0.99" fill="#4e4838"/><circle cx="522.44" cy="74.97" r="0.83" fill="#a09880"/><circle cx="523.11" cy="82.66" r="0.82" fill="#928a70"/><circle cx="529.13" cy="81.59" r="0.84" fill="#5a5443"/><circle cx="545.23" cy="85.39" r="0.54" fill="#a09880"/><circle cx="543.79" cy="73.81" r="0.64" fill="#928a70"/><circle cx="544.36" cy="76.27" r="0.66" fill="#a09880"/><circle cx="547.33" cy="72.24" r="0.67" fill="#5a5443"/><circle cx="565.47" cy="75.59" r="0.79" fill="#5a5443"/><circle cx="558.89" cy="80.73" r="0.73" fill="#5a5443"/><circle cx="561.23" cy="74.37" r="0.52" fill="#928a70"/><circle cx="561.04" cy="79.78" r="0.97" fill="#928a70"/><circle cx="505.97" cy="87.37" r="0.78" fill="#928a70"/><circle cx="507.01" cy="92.53" r="0.87" fill="#4e4838"/><circle cx="503.39" cy="87.24" r="0.77" fill="#5a5443"/><circle cx="505.89" cy="88.11" r="0.56" fill="#5a5443"/><circle cx="520.16" cy="94.8" r="0.95" fill="#a09880"/><circle cx="525.34" cy="89.36" r="0.74" fill="#4e4838"/><circle cx="524.5" cy="97.37" r="0.83" fill="#a09880"/><circle cx="514.67" cy="92.35" r="0.67" fill="#4e4838"/><circle cx="540.28" cy="101.14" r="0.91" fill="#928a70"/><circle cx="544.12" cy="94.71" r="0.77" fill="#4e4838"/><circle cx="541.83" cy="89.96" r="0.96" fill="#5a5443"/><circle cx="543.06" cy="85.91" r="0.74" fill="#4e4838"/><circle cx="555.81" cy="90.88" r="0.62" fill="#5a5443"/><circle cx="556.15" cy="89.04" r="0.74" fill="#4e4838"/><circle cx="560.76" cy="92.84" r="0.89" fill="#4e4838"/><circle cx="562.53" cy="93.75" r="0.99" fill="#928a70"/></g>
<path d="M586.9 105.3 L504 121.2" stroke="#6a6a8a" stroke-width="0.45" fill="none"/>
<rect x="494.4" y="121" width="9.6" height="6" fill="none" stroke="#3a4a6a" stroke-width="0.5"/>
<text x="396.5" y="181.2" font-size="15.8" stroke="#1a1a1a" stroke-width="0.15">d</text>
<text x="413.3" y="180.8" font-size="12.35">After Ligand-Exchange</text>
<path d="M395 211 H557.3 L593.5 262.5 V274.6 H395 Z" fill="url(#purc)"/>
<path d="M593.5 262.5 V274.6 H589.5 Z" fill="#5d3390"/>
<path d="M426.5 246 H525 V248.2 H426.5 Z" fill="#4a2a78" filter="url(#blur1)"/><path d="M429.6 238 H522 L523.6 246.8 H427.9 Z" fill="#2c2c35"/>
<path d="M432.6 220 H458 V239.6 H429.6 Z" fill="#e6a265"/>
<path d="M430 236.8 H458 V239.6 H429.6 Z" fill="#f0b47c"/>
<path d="M458 220.6 H493.3 V241.9 H458 Z" fill="#3b3c3d"/>
<path d="M493.3 220 H516.2 L521.5 238 V241 H494.3 V238 Z" fill="#c2c2c4"/>
<path d="M494.3 237.6 H521.5 V241 H494.3 Z" fill="#e2e2e2"/>
<path d="M473.25 193.8 H475.95 V205.2 L478.7 203 L474.6 215.7 L470.5 203 L473.25 205.2 Z" fill="#111"/>
<path d="M400.6 227 H414.6 L412.5 224.4 L424 228.6 L412.5 232.8 L414.6 230.2 H400.6 Z" fill="#111"/>
<rect x="526" y="186" width="66.9" height="44.6" fill="#fff" stroke="#aaa" stroke-width="0.7" stroke-dasharray="2.8 2"/>
<path d="M526 186 L499 227.5" stroke="#999" stroke-width="0.5" stroke-dasharray="1.5 1" fill="none"/>
<g filter="url(#fuzz)">
<circle cx="540.6" cy="194.6" r="7.6" fill="url(#sph2)"/>
<circle cx="553.6" cy="194.6" r="7.6" fill="url(#sph2)"/>
<circle cx="566.6" cy="194.6" r="7.6" fill="url(#sph2)"/>
<circle cx="579.6" cy="194.6" r="7.6" fill="url(#sph2)"/>
<circle cx="539.8" cy="204.2" r="7.6" fill="url(#sph2)"/>
<circle cx="552.8" cy="204.2" r="7.6" fill="url(#sph2)"/>
<circle cx="565.8" cy="204.2" r="7.6" fill="url(#sph2)"/>
<circle cx="578.8" cy="204.2" r="7.6" fill="url(#sph2)"/>
<circle cx="539" cy="213.8" r="7.6" fill="url(#sph2)"/>
<circle cx="552" cy="213.8" r="7.6" fill="url(#sph2)"/>
<circle cx="565" cy="213.8" r="7.6" fill="url(#sph2)"/>
<circle cx="578" cy="213.8" r="7.6" fill="url(#sph2)"/>
<circle cx="538.2" cy="223.4" r="7.6" fill="url(#sph2)"/>
<circle cx="551.2" cy="223.4" r="7.6" fill="url(#sph2)"/>
<circle cx="564.2" cy="223.4" r="7.6" fill="url(#sph2)"/>
<circle cx="577.2" cy="223.4" r="7.6" fill="url(#sph2)"/>
</g>
<g opacity="0.7"><circle cx="536.14" cy="190.27" r="0.92" fill="#4e4838"/><circle cx="541.18" cy="191.04" r="0.95" fill="#4e4838"/><circle cx="544.35" cy="197.83" r="0.69" fill="#a09880"/><circle cx="543.49" cy="196.75" r="0.7" fill="#a09880"/><circle cx="556.39" cy="200.72" r="0.58" fill="#928a70"/><circle cx="554.38" cy="192.03" r="0.56" fill="#928a70"/><circle cx="560.34" cy="194.68" r="0.89" fill="#a09880"/><circle cx="556.45" cy="193.86" r="0.64" fill="#a09880"/><circle cx="571.74" cy="193.31" r="0.59" fill="#a09880"/><circle cx="569.74" cy="193.96" r="0.65" fill="#928a70"/><circle cx="564.71" cy="196.85" r="0.63" fill="#a09880"/><circle cx="563.39" cy="200.29" r="0.8" fill="#4e4838"/><circle cx="579.11" cy="192.81" r="0.91" fill="#5a5443"/><circle cx="575.57" cy="195.1" r="0.74" fill="#928a70"/><circle cx="581.24" cy="197.87" r="0.97" fill="#4e4838"/><circle cx="576.73" cy="198.18" r="0.68" fill="#928a70"/><circle cx="539.19" cy="203.88" r="0.85" fill="#4e4838"/><circle cx="534.76" cy="199.26" r="0.88" fill="#4e4838"/><circle cx="546.13" cy="201.18" r="0.76" fill="#5a5443"/><circle cx="542.62" cy="201.93" r="0.55" fill="#928a70"/><circle cx="552.72" cy="197.75" r="0.52" fill="#5a5443"/><circle cx="554.85" cy="203.47" r="0.76" fill="#5a5443"/><circle cx="551" cy="206.31" r="0.96" fill="#5a5443"/><circle cx="548.92" cy="203.08" r="0.65" fill="#5a5443"/><circle cx="567.51" cy="198.75" r="1" fill="#5a5443"/><circle cx="566.64" cy="205.55" r="0.52" fill="#928a70"/><circle cx="565.54" cy="199.97" r="0.73" fill="#5a5443"/><circle cx="564.3" cy="205.01" r="0.9" fill="#4e4838"/><circle cx="577.15" cy="207.04" r="0.82" fill="#a09880"/><circle cx="579.35" cy="201.91" r="0.69" fill="#928a70"/><circle cx="583.17" cy="205.89" r="0.73" fill="#a09880"/><circle cx="585.47" cy="204.15" r="0.98" fill="#928a70"/><circle cx="537.47" cy="210.03" r="0.65" fill="#5a5443"/><circle cx="536.73" cy="215.37" r="0.91" fill="#928a70"/><circle cx="536" cy="213.2" r="0.93" fill="#928a70"/><circle cx="541.16" cy="218.38" r="0.53" fill="#5a5443"/><circle cx="553.19" cy="209.66" r="0.88" fill="#4e4838"/><circle cx="548.04" cy="218.39" r="0.92" fill="#5a5443"/><circle cx="551.34" cy="220.92" r="0.98" fill="#5a5443"/><circle cx="550.37" cy="216.38" r="0.74" fill="#4e4838"/><circle cx="565.6" cy="209.72" r="0.73" fill="#5a5443"/><circle cx="567.35" cy="208.49" r="0.67" fill="#5a5443"/><circle cx="561.16" cy="208.93" r="0.68" fill="#928a70"/><circle cx="568.7" cy="208.17" r="0.99" fill="#928a70"/><circle cx="583" cy="212.38" r="0.6" fill="#a09880"/><circle cx="573.69" cy="218.89" r="0.85" fill="#5a5443"/><circle cx="576.82" cy="207.74" r="0.81" fill="#a09880"/><circle cx="582.77" cy="211.76" r="0.65" fill="#928a70"/><circle cx="531.85" cy="221.21" r="0.86" fill="#5a5443"/><circle cx="541.04" cy="223.9" r="0.81" fill="#928a70"/><circle cx="540.85" cy="229.1" r="0.82" fill="#a09880"/><circle cx="542.99" cy="224.69" r="0.58" fill="#a09880"/><circle cx="553.07" cy="221.88" r="0.74" fill="#a09880"/><circle cx="546.76" cy="222.02" r="0.69" fill="#5a5443"/><circle cx="546.96" cy="219.82" r="0.86" fill="#a09880"/><circle cx="548.2" cy="226.44" r="0.93" fill="#5a5443"/><circle cx="568.19" cy="218.93" r="0.98" fill="#5a5443"/><circle cx="560.43" cy="222.18" r="0.77" fill="#5a5443"/><circle cx="561.27" cy="228.06" r="0.91" fill="#5a5443"/><circle cx="558.52" cy="226.58" r="0.73" fill="#5a5443"/><circle cx="579.67" cy="227.12" r="0.98" fill="#928a70"/><circle cx="582.72" cy="222.26" r="0.91" fill="#5a5443"/><circle cx="574.84" cy="219.61" r="0.78" fill="#5a5443"/><circle cx="575.17" cy="221.61" r="0.71" fill="#928a70"/></g>
<path d="M497 233 L503 224 L509 233" fill="none" stroke="#778" stroke-width="0.4"/><path d="M497.5 232 H514" fill="none" stroke="#778" stroke-width="0.4" stroke-dasharray="1.2 0.8"/>
</g>
<g id="pe">
<text x="613.5" y="13.8" font-size="15.8" stroke="#1a1a1a" stroke-width="0.15">e</text>
<circle cx="676.2" cy="10.6" r="3.9" fill="#5a5a5a"/>
<text x="687" y="14.8" font-size="12.3">Compact ligands</text>
<g fill="#4b4b4b"><circle cx="692.5" cy="69.9" r="2.2"/><circle cx="692.08" cy="74.15" r="2.2"/><circle cx="690.84" cy="78.24" r="2.2"/><circle cx="688.83" cy="82.01" r="2.2"/><circle cx="686.11" cy="85.31" r="2.2"/><circle cx="682.81" cy="88.03" r="2.2"/><circle cx="679.04" cy="90.04" r="2.2"/><circle cx="674.95" cy="91.28" r="2.2"/><circle cx="670.7" cy="91.7" r="2.2"/><circle cx="666.45" cy="91.28" r="2.2"/><circle cx="662.36" cy="90.04" r="2.2"/><circle cx="658.59" cy="88.03" r="2.2"/><circle cx="655.29" cy="85.31" r="2.2"/><circle cx="652.57" cy="82.01" r="2.2"/><circle cx="650.56" cy="78.24" r="2.2"/><circle cx="649.32" cy="74.15" r="2.2"/><circle cx="648.9" cy="69.9" r="2.2"/><circle cx="649.32" cy="65.65" r="2.2"/><circle cx="650.56" cy="61.56" r="2.2"/><circle cx="652.57" cy="57.79" r="2.2"/><circle cx="655.29" cy="54.49" r="2.2"/><circle cx="658.59" cy="51.77" r="2.2"/><circle cx="662.36" cy="49.76" r="2.2"/><circle cx="666.45" cy="48.52" r="2.2"/><circle cx="670.7" cy="48.1" r="2.2"/><circle cx="674.95" cy="48.52" r="2.2"/><circle cx="679.04" cy="49.76" r="2.2"/><circle cx="682.81" cy="51.77" r="2.2"/><circle cx="686.11" cy="54.49" r="2.2"/><circle cx="688.83" cy="57.79" r="2.2"/><circle cx="690.84" cy="61.56" r="2.2"/><circle cx="692.08" cy="65.65" r="2.2"/><circle cx="740.4" cy="77.6" r="2.2"/><circle cx="739.98" cy="81.85" r="2.2"/><circle cx="738.74" cy="85.94" r="2.2"/><circle cx="736.73" cy="89.71" r="2.2"/><circle cx="734.01" cy="93.01" r="2.2"/><circle cx="730.71" cy="95.73" r="2.2"/><circle cx="726.94" cy="97.74" r="2.2"/><circle cx="722.85" cy="98.98" r="2.2"/><circle cx="718.6" cy="99.4" r="2.2"/><circle cx="714.35" cy="98.98" r="2.2"/><circle cx="710.26" cy="97.74" r="2.2"/><circle cx="706.49" cy="95.73" r="2.2"/><circle cx="703.19" cy="93.01" r="2.2"/><circle cx="700.47" cy="89.71" r="2.2"/><circle cx="698.46" cy="85.94" r="2.2"/><circle cx="697.22" cy="81.85" r="2.2"/><circle cx="696.8" cy="77.6" r="2.2"/><circle cx="697.22" cy="73.35" r="2.2"/><circle cx="698.46" cy="69.26" r="2.2"/><circle cx="700.47" cy="65.49" r="2.2"/><circle cx="703.19" cy="62.19" r="2.2"/><circle cx="706.49" cy="59.47" r="2.2"/><circle cx="710.26" cy="57.46" r="2.2"/><circle cx="714.35" cy="56.22" r="2.2"/><circle cx="718.6" cy="55.8" r="2.2"/><circle cx="722.85" cy="56.22" r="2.2"/><circle cx="726.94" cy="57.46" r="2.2"/><circle cx="730.71" cy="59.47" r="2.2"/><circle cx="734.01" cy="62.19" r="2.2"/><circle cx="736.73" cy="65.49" r="2.2"/><circle cx="738.74" cy="69.26" r="2.2"/><circle cx="739.98" cy="73.35" r="2.2"/><circle cx="788.4" cy="82.6" r="2.2"/><circle cx="787.98" cy="86.85" r="2.2"/><circle cx="786.74" cy="90.94" r="2.2"/><circle cx="784.73" cy="94.71" r="2.2"/><circle cx="782.01" cy="98.01" r="2.2"/><circle cx="778.71" cy="100.73" r="2.2"/><circle cx="774.94" cy="102.74" r="2.2"/><circle cx="770.85" cy="103.98" r="2.2"/><circle cx="766.6" cy="104.4" r="2.2"/><circle cx="762.35" cy="103.98" r="2.2"/><circle cx="758.26" cy="102.74" r="2.2"/><circle cx="754.49" cy="100.73" r="2.2"/><circle cx="751.19" cy="98.01" r="2.2"/><circle cx="748.47" cy="94.71" r="2.2"/><circle cx="746.46" cy="90.94" r="2.2"/><circle cx="745.22" cy="86.85" r="2.2"/><circle cx="744.8" cy="82.6" r="2.2"/><circle cx="745.22" cy="78.35" r="2.2"/><circle cx="746.46" cy="74.26" r="2.2"/><circle cx="748.47" cy="70.49" r="2.2"/><circle cx="751.19" cy="67.19" r="2.2"/><circle cx="754.49" cy="64.47" r="2.2"/><circle cx="758.26" cy="62.46" r="2.2"/><circle cx="762.35" cy="61.22" r="2.2"/><circle cx="766.6" cy="60.8" r="2.2"/><circle cx="770.85" cy="61.22" r="2.2"/><circle cx="774.94" cy="62.46" r="2.2"/><circle cx="778.71" cy="64.47" r="2.2"/><circle cx="782.01" cy="67.19" r="2.2"/><circle cx="784.73" cy="70.49" r="2.2"/><circle cx="786.74" cy="74.26" r="2.2"/><circle cx="787.98" cy="78.35" r="2.2"/><circle cx="660.2" cy="108.9" r="2.2"/><circle cx="659.78" cy="113.15" r="2.2"/><circle cx="658.54" cy="117.24" r="2.2"/><circle cx="656.53" cy="121.01" r="2.2"/><circle cx="653.81" cy="124.31" r="2.2"/><circle cx="650.51" cy="127.03" r="2.2"/><circle cx="646.74" cy="129.04" r="2.2"/><circle cx="642.65" cy="130.28" r="2.2"/><circle cx="638.4" cy="130.7" r="2.2"/><circle cx="634.15" cy="130.28" r="2.2"/><circle cx="630.06" cy="129.04" r="2.2"/><circle cx="626.29" cy="127.03" r="2.2"/><circle cx="622.99" cy="124.31" r="2.2"/><circle cx="620.27" cy="121.01" r="2.2"/><circle cx="618.26" cy="117.24" r="2.2"/><circle cx="617.02" cy="113.15" r="2.2"/><circle cx="616.6" cy="108.9" r="2.2"/><circle cx="617.02" cy="104.65" r="2.2"/><circle cx="618.26" cy="100.56" r="2.2"/><circle cx="620.27" cy="96.79" r="2.2"/><circle cx="622.99" cy="93.49" r="2.2"/><circle cx="626.29" cy="90.77" r="2.2"/><circle cx="630.06" cy="88.76" r="2.2"/><circle cx="634.15" cy="87.52" r="2.2"/><circle cx="638.4" cy="87.1" r="2.2"/><circle cx="642.65" cy="87.52" r="2.2"/><circle cx="646.74" cy="88.76" r="2.2"/><circle cx="650.51" cy="90.77" r="2.2"/><circle cx="653.81" cy="93.49" r="2.2"/><circle cx="656.53" cy="96.79" r="2.2"/><circle cx="658.54" cy="100.56" r="2.2"/><circle cx="659.78" cy="104.65" r="2.2"/><circle cx="709" cy="115.3" r="2.2"/><circle cx="708.58" cy="119.55" r="2.2"/><circle cx="707.34" cy="123.64" r="2.2"/><circle cx="705.33" cy="127.41" r="2.2"/><circle cx="702.61" cy="130.71" r="2.2"/><circle cx="699.31" cy="133.43" r="2.2"/><circle cx="695.54" cy="135.44" r="2.2"/><circle cx="691.45" cy="136.68" r="2.2"/><circle cx="687.2" cy="137.1" r="2.2"/><circle cx="682.95" cy="136.68" r="2.2"/><circle cx="678.86" cy="135.44" r="2.2"/><circle cx="675.09" cy="133.43" r="2.2"/><circle cx="671.79" cy="130.71" r="2.2"/><circle cx="669.07" cy="127.41" r="2.2"/><circle cx="667.06" cy="123.64" r="2.2"/><circle cx="665.82" cy="119.55" r="2.2"/><circle cx="665.4" cy="115.3" r="2.2"/><circle cx="665.82" cy="111.05" r="2.2"/><circle cx="667.06" cy="106.96" r="2.2"/><circle cx="669.07" cy="103.19" r="2.2"/><circle cx="671.79" cy="99.89" r="2.2"/><circle cx="675.09" cy="97.17" r="2.2"/><circle cx="678.86" cy="95.16" r="2.2"/><circle cx="682.95" cy="93.92" r="2.2"/><circle cx="687.2" cy="93.5" r="2.2"/><circle cx="691.45" cy="93.92" r="2.2"/><circle cx="695.54" cy="95.16" r="2.2"/><circle cx="699.31" cy="97.17" r="2.2"/><circle cx="702.61" cy="99.89" r="2.2"/><circle cx="705.33" cy="103.19" r="2.2"/><circle cx="707.34" cy="106.96" r="2.2"/><circle cx="708.58" cy="111.05" r="2.2"/><circle cx="758.7" cy="121.3" r="2.2"/><circle cx="758.28" cy="125.55" r="2.2"/><circle cx="757.04" cy="129.64" r="2.2"/><circle cx="755.03" cy="133.41" r="2.2"/><circle cx="752.31" cy="136.71" r="2.2"/><circle cx="749.01" cy="139.43" r="2.2"/><circle cx="745.24" cy="141.44" r="2.2"/><circle cx="741.15" cy="142.68" r="2.2"/><circle cx="736.9" cy="143.1" r="2.2"/><circle cx="732.65" cy="142.68" r="2.2"/><circle cx="728.56" cy="141.44" r="2.2"/><circle cx="724.79" cy="139.43" r="2.2"/><circle cx="721.49" cy="136.71" r="2.2"/><circle cx="718.77" cy="133.41" r="2.2"/><circle cx="716.76" cy="129.64" r="2.2"/><circle cx="715.52" cy="125.55" r="2.2"/><circle cx="715.1" cy="121.3" r="2.2"/><circle cx="715.52" cy="117.05" r="2.2"/><circle cx="716.76" cy="112.96" r="2.2"/><circle cx="718.77" cy="109.19" r="2.2"/><circle cx="721.49" cy="105.89" r="2.2"/><circle cx="724.79" cy="103.17" r="2.2"/><circle cx="728.56" cy="101.16" r="2.2"/><circle cx="732.65" cy="99.92" r="2.2"/><circle cx="736.9" cy="99.5" r="2.2"/><circle cx="741.15" cy="99.92" r="2.2"/><circle cx="745.24" cy="101.16" r="2.2"/><circle cx="749.01" cy="103.17" r="2.2"/><circle cx="752.31" cy="105.89" r="2.2"/><circle cx="755.03" cy="109.19" r="2.2"/><circle cx="757.04" cy="112.96" r="2.2"/><circle cx="758.28" cy="117.05" r="2.2"/></g>
<circle cx="670.7" cy="69.9" r="19.6" fill="#b3b3b3" stroke="#444" stroke-width="0.7"/>
<circle cx="718.6" cy="77.6" r="19.6" fill="#b3b3b3" stroke="#444" stroke-width="0.7"/>
<circle cx="766.6" cy="82.6" r="19.6" fill="#b3b3b3" stroke="#444" stroke-width="0.7"/>
<circle cx="638.4" cy="108.9" r="19.6" fill="#b3b3b3" stroke="#444" stroke-width="0.7"/>
<circle cx="687.2" cy="115.3" r="19.6" fill="#b3b3b3" stroke="#444" stroke-width="0.7"/>
<circle cx="736.9" cy="121.3" r="19.6" fill="#b3b3b3" stroke="#444" stroke-width="0.7"/>
<g fill="#4b4b4b"><circle cx="645" cy="44" r="2.4"/><circle cx="653" cy="44" r="2.4"/><circle cx="638.5" cy="51.3" r="2.4"/><circle cx="618" cy="67" r="2.4"/><circle cx="635" cy="72.8" r="2.4"/><circle cx="612.8" cy="86.8" r="2.4"/><circle cx="696" cy="48.8" r="2.4"/><circle cx="707.3" cy="46.3" r="2.4"/><circle cx="734.4" cy="41.9" r="2.4"/><circle cx="742.3" cy="58.1" r="2.4"/><circle cx="761.9" cy="44" r="2.4"/><circle cx="791.3" cy="51.3" r="2.4"/><circle cx="786.3" cy="105.6" r="2.4"/><circle cx="770" cy="118.8" r="2.4"/><circle cx="781" cy="126.3" r="2.4"/><circle cx="707.8" cy="136.5" r="2.4"/><circle cx="661.9" cy="132.3" r="2.4"/></g>
<path d="M619.4 59.7 L621.76 56.1 L624.12 60.9 L626.48 56.1 L628.84 60.9 L631.2 56.1 L633.56 60.9 L635.92 56.1 L638.28 60.9 L640.64 56.1 L643 59.7 M616.3 79.2 L618.67 75.6 L621.04 80.4 L623.41 75.6 L625.78 80.4 L628.15 75.6 L630.52 80.4 L632.89 75.6 L635.26 80.4 L637.63 75.6 L640 79.2 M678.58 39.67 L682.84 38.74 L681.33 43.92 L686.41 42.12 L684.91 47.3 L689.99 45.5 L688.49 50.68 L693.57 48.88 L692.06 54.06 L696.32 53.13 M711.92 39.15 L715.7 37.13 L715.39 42.46 L719.76 39.39 L719.45 44.72 L723.82 41.65 L723.51 46.98 L727.88 43.91 L727.57 49.24 L731.94 46.17 L732.22 50.45 M743.67 46.75 L746.88 43.92 L747.81 49.17 L751.34 45.18 L752.27 50.43 L755.8 46.44 L756.73 51.69 L760.26 47.7 L761.19 52.95 L764.72 48.96 L765.97 53.05 M772.96 47.16 L777.13 46.21 L775.42 51.25 L780.43 49.45 L778.72 54.49 L783.73 52.69 L782.02 57.73 L787.03 55.93 L785.32 60.97 L790.33 59.17 L789.46 63.36 M769.13 113.07 L772.37 110.12 L773.73 115.35 L777.23 111.23 L778.6 116.46 L782.1 112.34 L783.47 117.57 L786.97 113.45 L788.33 118.68 L791.57 115.73 M772.09 123.16 L773.82 127.16 L768.45 126.67 L771.2 131.31 L765.83 130.83 L768.57 135.47 L763.2 134.99 L765.95 139.63 L760.58 139.14 L762.31 143.14 M651.58 138.06 L654.73 135.2 L655.64 140.43 L659.11 136.42 L660.02 141.65 L663.49 137.64 L664.4 142.87 L667.87 138.86 L668.78 144.09 L672.25 140.08 L673.48 144.16" stroke="#787878" stroke-width="0.85" fill="none" stroke-linejoin="round"/>
<rect x="613" y="159.6" width="49" height="111" rx="3.5" fill="url(#box1)"/>
<rect x="668.2" y="159.6" width="81.1" height="111" rx="3.5" fill="url(#box2)"/>
<rect x="756.2" y="159.6" width="37" height="111" rx="3.5" fill="url(#box3)"/>
<text x="637.5" y="171.2" font-size="10.6" text-anchor="middle">NH<tspan font-size="6.5" dy="2">4</tspan><tspan dy="-2">SCN</tspan></text>
<text x="708.5" y="171.2" font-size="10.6" text-anchor="middle">TBAI</text>
<text x="775" y="171.2" font-size="10.6" text-anchor="middle">EDT</text>
<text x="636.8" y="196.9" font-size="10.9" text-anchor="middle" fill="#111" stroke="#111" stroke-width="0.22">H</text><text x="636.8" y="213.2" font-size="10.9" text-anchor="middle" fill="#111" stroke="#111" stroke-width="0.22">N</text><text x="622" y="207.1" font-size="10.9" text-anchor="middle" fill="#111" stroke="#111" stroke-width="0.22">H</text><text x="652.8" y="213.2" font-size="10.9" text-anchor="middle" fill="#111" stroke="#111" stroke-width="0.22">H</text><text x="622" y="222.2" font-size="10.9" text-anchor="middle" fill="#111" stroke="#111" stroke-width="0.22">H</text><text x="636.9" y="228" font-size="10.9" text-anchor="middle" fill="#111" stroke="#111" stroke-width="0.22">S</text><text x="636.9" y="247.2" font-size="10.9" text-anchor="middle" fill="#111" stroke="#111" stroke-width="0.22">C</text><text x="636.9" y="265.2" font-size="10.9" text-anchor="middle" fill="#111" stroke="#111" stroke-width="0.22">N</text>
<text x="641.6" y="205.8" font-size="5.5">+</text><text x="631.4" y="221.5" font-size="5.5">−</text>
<path d="M636.8 198.3 V204.2 M626.3 205 L632.4 207.6 M642 209.6 L648 209.2 M636.9 229.6 V238.4 M634.9 248.9 V256.3 M636.9 248.9 V256.3 M638.9 248.9 V256.3" stroke="#1a1a1a" stroke-width="1.05" fill="none"/>
<path d="M626.2 216.6 L632.2 211.8 L633.3 213.5 Z" fill="#111"/>
<text x="707" y="232.6" font-size="11.2" text-anchor="middle" fill="#111" stroke="#111" stroke-width="0.22">N</text>
<text x="711.6" y="223.2" font-size="5.5">+</text>
<text x="732.8" y="201.5" font-size="11" fill="#111" stroke="#111" stroke-width="0.2">I<tspan font-size="6.5" dy="-4.2">−</tspan></text>
<path d="M706.9 223.6 L702.6 216.6 L709.2 207.8 L703.5 201.4 L710.3 193.7 L706.7 189.7 M703.2 230 L697.4 233.2 L689.5 225.2 L679.3 233.2 L670.2 225.7 M712.6 222.5 L717.1 220.7 L726.8 229.3 L738.2 221.8 L748.8 230.9 M709 233.6 L714.4 242.2 L706.4 250.2 L714.4 258.1 L706.4 266" stroke="#1a1a1a" stroke-width="1.1" fill="none" stroke-linejoin="round"/>
<text x="773.7" y="200.8" font-size="10.9" text-anchor="middle" fill="#111" stroke="#111" stroke-width="0.22">H</text><text x="773.7" y="210" font-size="10.9" text-anchor="middle" fill="#111" stroke="#111" stroke-width="0.22">S</text><text x="775.5" y="255.3" font-size="10.9" text-anchor="middle" fill="#111" stroke="#111" stroke-width="0.22">S</text><text x="775.5" y="264.4" font-size="10.9" text-anchor="middle" fill="#111" stroke="#111" stroke-width="0.22">H</text>
<path d="M775.6 211.5 L781.2 221 L771 235.4 L775.5 244" stroke="#1a1a1a" stroke-width="1.1" fill="none" stroke-linejoin="round"/>
</g>
<g id="pf">
<text x="0.8" y="310.6" font-size="16" stroke="#1a1a1a" stroke-width="0.15">f</text>
<filter id="fL" x="0" y="0" width="100%" height="100%" color-interpolation-filters="sRGB"><feTurbulence type="fractalNoise" baseFrequency="0.6" numOctaves="2" seed="3"/><feColorMatrix type="matrix" values="0.2 0 0 0 0.23  0.2 0 0 0 0.23  0.2 0 0 0 0.23  0 0 0 0 1"/><feGaussianBlur stdDeviation="0.45"/></filter>
<filter id="fR" x="0" y="0" width="100%" height="100%" color-interpolation-filters="sRGB"><feTurbulence type="fractalNoise" baseFrequency="0.7" numOctaves="2" seed="9"/><feColorMatrix type="matrix" values="0.5 0 0 0 0.23  0.5 0 0 0 0.23  0.5 0 0 0 0.23  0 0 0 0 1"/><feGaussianBlur stdDeviation="0.45"/></filter>
<filter id="fB" x="0" y="0" width="100%" height="100%" color-interpolation-filters="sRGB"><feTurbulence type="fractalNoise" baseFrequency="0.27" numOctaves="2" seed="5"/><feColorMatrix type="matrix" values="1.2 0 0 0 -0.02  1.2 0 0 0 -0.02  1.2 0 0 0 -0.02  0 0 0 0 1"/><feGaussianBlur stdDeviation="0.4"/></filter>
<filter id="fRed" x="0" y="0" width="100%" height="100%" color-interpolation-filters="sRGB"><feTurbulence type="fractalNoise" baseFrequency="0.8" numOctaves="2" seed="14"/><feColorMatrix type="matrix" values="0.22 0 0 0 0.2  0.22 0 0 0 0.21  0.22 0 0 0 0.21  0 0 0 0 1"/><feGaussianBlur stdDeviation="0.45"/></filter>
<clipPath id="cf"><rect x="15" y="308.9" width="207" height="205.10000000000002"/></clipPath>
<clipPath id="cfr"><path d="M99 309 H222 V515 H156.5 Z"/></clipPath>
<g clip-path="url(#cf)">
<rect x="15" y="308.9" width="207" height="205.10000000000002" fill="#555" filter="url(#fL)"/>
<path d="M22 309 L33 309 L90.3 515 L79.3 515 Z" fill="#fff" opacity="0.06" filter="url(#blur2)"/>
<path d="M50 309 L59 309 L116.3 515 L107.3 515 Z" fill="#000" opacity="0.07" filter="url(#blur2)"/>
<path d="M72 309 L80 309 L137.3 515 L129.3 515 Z" fill="#fff" opacity="0.05" filter="url(#blur2)"/>
<path d="M-6 309 L6 309 L63.3 515 L51.3 515 Z" fill="#000" opacity="0.08" filter="url(#blur2)"/>
<path d="M-40 309 L-30 309 L27.299999999999997 515 L17.299999999999997 515 Z" fill="#fff" opacity="0.05" filter="url(#blur2)"/>
<path d="M-72 309 L-58 309 L-0.7000000000000028 515 L-14.700000000000003 515 Z" fill="#000" opacity="0.06" filter="url(#blur2)"/>
<path d="M86 309 L94 309 L151.3 515 L143.3 515 Z" fill="#000" opacity="0.06" filter="url(#blur2)"/>
<g clip-path="url(#cfr)"><rect x="15" y="308.9" width="207" height="205.10000000000002" fill="#7c7c7c" filter="url(#fR)"/>
<path d="M99 309 L108 309 L165.5 515 L156.5 515 Z" fill="#4a4a4a" opacity="0.35" filter="url(#blur2)"/>
<path d="M120 309 H222 V420 Z" fill="#000" opacity="0.1" filter="url(#blur2)"/>
</g>
</g>
<rect x="31" y="423" width="82" height="80.5" fill="#505454" filter="url(#fRed)"/>
<g fill="#9a9a9a" opacity="0.7"><circle cx="53" cy="435.22" r="0.56"/><circle cx="47.16" cy="432.66" r="0.56"/><circle cx="102.09" cy="484.03" r="0.71"/><circle cx="51.98" cy="465.57" r="0.51"/><circle cx="48.43" cy="435.43" r="0.49"/><circle cx="102.78" cy="486.02" r="0.72"/><circle cx="93.63" cy="441.54" r="0.52"/><circle cx="81.14" cy="479.23" r="0.74"/><circle cx="99.36" cy="434.07" r="0.64"/><circle cx="84.36" cy="463.42" r="0.47"/><circle cx="70.1" cy="434.25" r="0.77"/><circle cx="98.31" cy="466.33" r="0.52"/><circle cx="101.44" cy="468.07" r="0.75"/><circle cx="97.06" cy="463.59" r="0.57"/><circle cx="79.12" cy="458.17" r="0.46"/><circle cx="57.97" cy="484.88" r="0.42"/><circle cx="39.34" cy="471.84" r="0.51"/><circle cx="74.49" cy="460.99" r="0.54"/><circle cx="107.8" cy="441.69" r="0.57"/><circle cx="50.59" cy="472.29" r="0.51"/><circle cx="61.62" cy="480.29" r="0.53"/><circle cx="76.21" cy="491.3" r="0.44"/><circle cx="40.44" cy="444.02" r="0.71"/><circle cx="80.31" cy="444.62" r="0.53"/><circle cx="48.78" cy="460.13" r="0.42"/><circle cx="86.21" cy="490.71" r="0.78"/><circle cx="88.91" cy="495.19" r="0.41"/><circle cx="56.81" cy="495.62" r="0.71"/><circle cx="65.55" cy="494.03" r="0.65"/><circle cx="94.89" cy="448.54" r="0.48"/><circle cx="67.98" cy="437.55" r="0.55"/><circle cx="105.25" cy="451.19" r="0.4"/><circle cx="39.23" cy="439.87" r="0.71"/><circle cx="62.12" cy="448.32" r="0.44"/><circle cx="106.69" cy="457.68" r="0.48"/><circle cx="40.27" cy="431.87" r="0.47"/><circle cx="84.73" cy="438.47" r="0.42"/><circle cx="71.33" cy="445.43" r="0.8"/><circle cx="44.8" cy="465.05" r="0.71"/><circle cx="65.47" cy="497.14" r="0.59"/><circle cx="53.41" cy="456.74" r="0.41"/><circle cx="66.33" cy="445.4" r="0.76"/><circle cx="95.84" cy="462.9" r="0.41"/><circle cx="54.32" cy="444.97" r="0.48"/><circle cx="52.67" cy="488.88" r="0.46"/></g>
<rect x="31.3" y="423.1" width="81.3" height="80.2" fill="none" stroke="#e58e8e" stroke-width="1.1"/>
<rect x="33.7" y="425.5" width="76.5" height="75.4" fill="none" stroke="#d98686" stroke-width="0.7" opacity="0.85"/>
<rect x="90.4" y="496.8" width="17" height="2.2" fill="#fff"/>
<rect x="137.6" y="317" width="82" height="81" fill="#9c9c9c" filter="url(#fB)"/>
<rect x="137.6" y="317" width="82" height="81" fill="none" stroke="#a0a0d2" stroke-width="1.8"/>
<rect x="195.8" y="392" width="17.2" height="2.2" fill="#fff"/>
<rect x="189.4" y="507.6" width="21.8" height="3.1" fill="#fff"/>
</g>
<g id="pg">
<text x="239.6" y="310.8" font-size="16" stroke="#1a1a1a" stroke-width="0.15">g</text>
<text x="286.2" y="315" font-size="12.4" text-anchor="end">1.0</text>
<path d="M286.4 310.6 H288" stroke="#222" stroke-width="0.8"/>
<text x="286.2" y="355.76" font-size="12.4" text-anchor="end">0.8</text>
<path d="M286.4 351.36 H288" stroke="#222" stroke-width="0.8"/>
<text x="286.2" y="396.52" font-size="12.4" text-anchor="end">0.6</text>
<path d="M286.4 392.12 H288" stroke="#222" stroke-width="0.8"/>
<text x="286.2" y="437.28" font-size="12.4" text-anchor="end">0.4</text>
<path d="M286.4 432.88 H288" stroke="#222" stroke-width="0.8"/>
<text x="286.2" y="478.04" font-size="12.4" text-anchor="end">0.2</text>
<path d="M286.4 473.64 H288" stroke="#222" stroke-width="0.8"/>
<text x="286.2" y="518.8" font-size="12.4" text-anchor="end">0.0</text>
<path d="M286.4 514.4 H288" stroke="#222" stroke-width="0.8"/>
<text transform="translate(262.3 412.3) rotate(-90)" font-size="12.5" text-anchor="middle">Absorption (arb. units)</text>
<rect x="287.6" y="309.8" width="8.9" height="204.8" fill="url(#cbar)"/>
<clipPath id="cg"><rect x="302.5" y="309.6" width="205.8" height="205.19999999999993"/></clipPath>
<g clip-path="url(#cg)">
<rect x="302.5" y="309.6" width="205.8" height="205.19999999999993" fill="#f0555a"/>
<path d="M397.26 309.6 L398.35 312.6 L399.28 315.6 L399.67 318.6 L400.45 321.6 L401.73 324.6 L402.54 327.6 L403.99 330.6 L404.79 333.6 L405.61 336.6 L406.48 339.6 L407.5 342.6 L407.9 345.6 L409.11 348.6 L409.74 351.6 L411.4 354.6 L411.47 357.6 L413.14 360.6 L413.31 363.6 L414.84 366.6 L415.4 369.6 L416.38 372.6 L417.56 375.6 L417.45 378.6 L418.21 381.6 L419.78 384.6 L420.09 387.6 L420.39 390.6 L422 393.6 L422.67 396.6 L422.55 399.6 L423.58 402.6 L424 405.6 L424.9 408.6 L425.92 411.6 L426.18 414.6 L427.42 417.6 L427.51 420.6 L428.43 423.6 L429.87 426.6 L430.25 429.6 L431.07 432.6 L432.05 435.6 L432.73 438.6 L433.43 441.6 L433.88 444.6 L435.37 447.6 L436.41 450.6 L437.22 453.6 L437.7 456.6 L438.19 459.6 L439 462.6 L440.12 465.6 L440.9 468.6 L441.14 471.6 L442.22 474.6 L443.44 477.6 L444.69 480.6 L446.08 483.6 L446.87 486.6 L447.49 489.6 L449.38 492.6 L450.08 495.6 L451.27 498.6 L452.06 501.6 L453.36 504.6 L454.42 507.6 L455.9 510.6 L456.33 513.6 L508.3 514.8 L508.3 309.6 Z" fill="#7f79c1" stroke="#5a2a9a" stroke-width="0.7"/>
<g fill="#7a22a4"><circle cx="484.44" cy="347.81" r="0.66"/><circle cx="465.1" cy="468.28" r="0.57"/><circle cx="467.22" cy="417.84" r="0.93"/><circle cx="484.64" cy="415.34" r="0.66"/><circle cx="479.3" cy="361.42" r="0.9"/><circle cx="485.96" cy="384.95" r="0.83"/><circle cx="468.26" cy="472.1" r="0.67"/><circle cx="485.3" cy="419.3" r="0.71"/><circle cx="480.8" cy="375.65" r="0.67"/><circle cx="453.5" cy="314.76" r="0.82"/><circle cx="445.37" cy="383.26" r="0.64"/><circle cx="497.13" cy="403.84" r="0.77"/><circle cx="447.83" cy="383.37" r="0.77"/><circle cx="503.37" cy="367.78" r="0.9"/><circle cx="455.67" cy="392.91" r="0.87"/><circle cx="497.58" cy="352.36" r="0.56"/><circle cx="434.71" cy="370.05" r="0.89"/><circle cx="467.7" cy="394.56" r="0.92"/><circle cx="409.75" cy="326.06" r="0.6"/><circle cx="454.78" cy="421.13" r="0.79"/><circle cx="472.3" cy="348.96" r="0.64"/><circle cx="481.86" cy="329.8" r="0.77"/><circle cx="476.83" cy="432.06" r="0.69"/><circle cx="442.97" cy="351.07" r="0.93"/><circle cx="447.83" cy="370.11" r="0.76"/><circle cx="492.64" cy="513.63" r="0.66"/><circle cx="450.49" cy="395.8" r="0.57"/><circle cx="479.06" cy="467.18" r="0.76"/><circle cx="453.92" cy="313.06" r="0.58"/><circle cx="473.12" cy="422.49" r="0.91"/><circle cx="470.8" cy="465.15" r="0.8"/><circle cx="490.53" cy="501.68" r="0.6"/><circle cx="501.78" cy="399.2" r="0.93"/><circle cx="489.17" cy="491.18" r="0.64"/><circle cx="437.89" cy="401.35" r="0.62"/><circle cx="474.53" cy="450.35" r="0.63"/><circle cx="485.98" cy="434.74" r="0.94"/><circle cx="501.84" cy="411.27" r="0.77"/><circle cx="495.94" cy="359.9" r="0.62"/><circle cx="491.07" cy="317.19" r="0.72"/><circle cx="480.87" cy="365.26" r="0.86"/><circle cx="499.42" cy="449.37" r="0.83"/><circle cx="422.98" cy="344.63" r="0.8"/><circle cx="465.07" cy="464.09" r="0.62"/><circle cx="462.35" cy="411.63" r="0.73"/><circle cx="451.27" cy="342.94" r="0.89"/><circle cx="487.3" cy="417.59" r="0.62"/><circle cx="503.96" cy="330.03" r="0.84"/><circle cx="484.06" cy="466.85" r="0.78"/><circle cx="488.5" cy="398.33" r="0.7"/><circle cx="477.56" cy="480.83" r="0.64"/><circle cx="497.84" cy="437.61" r="0.88"/><circle cx="501.51" cy="391.01" r="0.86"/><circle cx="492.16" cy="336.72" r="0.84"/><circle cx="500.36" cy="394.87" r="0.82"/><circle cx="484.81" cy="485.14" r="0.67"/><circle cx="464.38" cy="487.99" r="0.9"/><circle cx="492.74" cy="371.79" r="0.84"/><circle cx="474.05" cy="344.73" r="0.76"/><circle cx="473.23" cy="335.67" r="0.61"/><circle cx="489.27" cy="509.22" r="0.78"/><circle cx="499.46" cy="354.02" r="0.71"/><circle cx="492.35" cy="427.54" r="0.85"/><circle cx="475.06" cy="495.88" r="0.91"/><circle cx="472.48" cy="396.76" r="0.75"/><circle cx="478.53" cy="374.04" r="0.81"/><circle cx="471.34" cy="354.9" r="0.86"/><circle cx="461.16" cy="310.76" r="0.88"/><circle cx="452.62" cy="463.25" r="0.79"/><circle cx="434.87" cy="319.7" r="0.87"/><circle cx="507.05" cy="356.8" r="0.92"/><circle cx="468.66" cy="489.52" r="0.6"/><circle cx="470.96" cy="434.4" r="0.66"/><circle cx="488.93" cy="506.01" r="0.88"/><circle cx="448.2" cy="344.27" r="0.61"/><circle cx="495.58" cy="370.82" r="0.65"/><circle cx="497.79" cy="471.57" r="0.58"/><circle cx="464.71" cy="372.03" r="0.59"/><circle cx="460.17" cy="475.76" r="0.73"/><circle cx="502.21" cy="347.06" r="0.56"/><circle cx="487.74" cy="466.95" r="0.85"/><circle cx="451.43" cy="405.09" r="0.8"/><circle cx="490.51" cy="440.97" r="0.88"/><circle cx="488.24" cy="417.3" r="0.56"/><circle cx="503.38" cy="482.93" r="0.8"/><circle cx="436.91" cy="435.2" r="0.67"/><circle cx="485.81" cy="501.16" r="0.77"/><circle cx="478.65" cy="476.74" r="0.58"/><circle cx="458.48" cy="458.27" r="0.69"/><circle cx="500" cy="459.6" r="0.87"/><circle cx="446.27" cy="423.63" r="0.78"/><circle cx="467" cy="361.59" r="0.81"/><circle cx="479.96" cy="378.16" r="0.88"/><circle cx="439.09" cy="377.41" r="0.9"/><circle cx="499.61" cy="392.55" r="0.63"/><circle cx="495.42" cy="505" r="0.7"/><circle cx="455.98" cy="451.28" r="0.63"/><circle cx="490.47" cy="322.96" r="0.9"/><circle cx="505.47" cy="342.45" r="0.63"/><circle cx="493.37" cy="394.84" r="0.64"/><circle cx="496.28" cy="377.45" r="0.59"/><circle cx="506.1" cy="483.33" r="0.89"/><circle cx="504.56" cy="312.85" r="0.9"/><circle cx="500.12" cy="328.55" r="0.67"/><circle cx="473.86" cy="508.67" r="0.83"/><circle cx="507.8" cy="368.09" r="0.62"/><circle cx="458.32" cy="421.26" r="0.84"/><circle cx="494.58" cy="369.35" r="0.55"/><circle cx="481.32" cy="433.94" r="0.89"/><circle cx="508.31" cy="318.93" r="0.81"/><circle cx="488.67" cy="351.16" r="0.66"/><circle cx="487.45" cy="432.49" r="0.58"/><circle cx="499" cy="413" r="0.88"/><circle cx="433.06" cy="335.74" r="0.87"/><circle cx="470.83" cy="349.32" r="0.88"/><circle cx="501.58" cy="438.45" r="0.59"/><circle cx="507.87" cy="390.31" r="0.81"/><circle cx="438.35" cy="393.38" r="0.69"/><circle cx="444.17" cy="368.47" r="0.83"/><circle cx="470.71" cy="444.84" r="0.61"/><circle cx="449.42" cy="350.92" r="0.58"/><circle cx="486.56" cy="348.39" r="0.93"/><circle cx="493.63" cy="446.33" r="0.6"/><circle cx="500.87" cy="360.95" r="0.76"/><circle cx="452.48" cy="319.87" r="0.65"/><circle cx="451.73" cy="327.02" r="0.61"/><circle cx="480.8" cy="471.57" r="0.84"/><circle cx="479.53" cy="386.51" r="0.83"/><circle cx="488.02" cy="502.51" r="0.63"/><circle cx="471.58" cy="339.25" r="0.68"/><circle cx="496.33" cy="448.09" r="0.88"/><circle cx="472.06" cy="357.2" r="0.89"/><circle cx="439.06" cy="324.46" r="0.56"/><circle cx="489.5" cy="341.14" r="0.82"/><circle cx="434.72" cy="381.4" r="0.69"/><circle cx="463.65" cy="489.48" r="0.83"/><circle cx="502.88" cy="510.61" r="0.92"/><circle cx="486.68" cy="350.96" r="0.73"/><circle cx="478.19" cy="498.53" r="0.61"/><circle cx="474.84" cy="446.65" r="0.71"/><circle cx="478.1" cy="314.41" r="0.84"/><circle cx="457.98" cy="320.16" r="0.67"/><circle cx="471.4" cy="439.67" r="0.85"/><circle cx="490.52" cy="474.19" r="0.68"/><circle cx="501.72" cy="512.55" r="0.83"/><circle cx="507.36" cy="500.59" r="0.94"/><circle cx="486.26" cy="449.5" r="0.87"/><circle cx="489.63" cy="468.38" r="0.93"/><circle cx="484.93" cy="361.37" r="0.8"/><circle cx="451.31" cy="391.88" r="0.62"/><circle cx="475.06" cy="317.66" r="0.75"/><circle cx="507.76" cy="431.88" r="0.58"/><circle cx="506.92" cy="478.94" r="0.66"/><circle cx="477.31" cy="452.03" r="0.68"/><circle cx="490.49" cy="512.32" r="0.57"/><circle cx="467.63" cy="443.12" r="0.81"/><circle cx="480.81" cy="370.41" r="0.94"/><circle cx="429.41" cy="406.45" r="0.84"/><circle cx="500.42" cy="470.97" r="0.83"/><circle cx="495.09" cy="450.62" r="0.91"/><circle cx="498.96" cy="425.01" r="0.95"/><circle cx="500.67" cy="497.76" r="0.93"/><circle cx="499.61" cy="310.61" r="0.71"/><circle cx="442.74" cy="437.03" r="0.88"/><circle cx="481.59" cy="402.93" r="0.94"/><circle cx="477.72" cy="326.25" r="0.7"/><circle cx="461.73" cy="392.34" r="0.95"/><circle cx="499.42" cy="474.16" r="0.75"/><circle cx="495.58" cy="338.41" r="0.65"/><circle cx="442.76" cy="346.13" r="0.58"/><circle cx="460.07" cy="339.88" r="0.72"/><circle cx="495.68" cy="351.69" r="0.57"/><circle cx="503.61" cy="505.25" r="0.64"/><circle cx="464.39" cy="318.36" r="0.91"/><circle cx="495.47" cy="476.85" r="0.79"/><circle cx="433.52" cy="354.46" r="0.65"/><circle cx="472.52" cy="457.64" r="0.9"/><circle cx="443.49" cy="415.43" r="0.73"/><circle cx="502.46" cy="479.05" r="0.94"/><circle cx="467.09" cy="333.31" r="0.89"/><circle cx="476.85" cy="312.54" r="0.89"/><circle cx="475.7" cy="359.31" r="0.86"/><circle cx="506.79" cy="510.09" r="0.61"/><circle cx="495.9" cy="474.95" r="0.77"/><circle cx="507.78" cy="378.1" r="0.93"/><circle cx="417.41" cy="312.41" r="0.79"/><circle cx="486.88" cy="475.84" r="0.74"/><circle cx="495.17" cy="421.98" r="0.89"/><circle cx="441.84" cy="322.1" r="0.84"/><circle cx="490.41" cy="442.36" r="0.7"/><circle cx="509.23" cy="393.79" r="0.69"/><circle cx="481.26" cy="361.79" r="0.71"/><circle cx="463.01" cy="334.47" r="0.93"/><circle cx="464.51" cy="361.56" r="0.66"/><circle cx="493.49" cy="449.74" r="0.6"/><circle cx="482.6" cy="475.64" r="0.55"/><circle cx="500.05" cy="309.03" r="0.75"/><circle cx="491.99" cy="314.23" r="0.77"/><circle cx="468.03" cy="340.31" r="0.9"/><circle cx="461.79" cy="414.11" r="0.63"/><circle cx="470.78" cy="470.84" r="0.76"/><circle cx="508.76" cy="424.03" r="0.92"/><circle cx="466.21" cy="463.09" r="0.89"/><circle cx="469.65" cy="433" r="0.56"/><circle cx="453.02" cy="413.91" r="0.57"/><circle cx="507.51" cy="419.62" r="0.75"/><circle cx="480.5" cy="497.97" r="0.62"/><circle cx="477.31" cy="372.29" r="0.8"/><circle cx="466.08" cy="480.15" r="0.56"/><circle cx="488.89" cy="443.17" r="0.72"/><circle cx="480.45" cy="492.37" r="0.57"/><circle cx="469.04" cy="427.11" r="0.76"/><circle cx="454.67" cy="401.27" r="0.57"/><circle cx="475.48" cy="347.14" r="0.84"/><circle cx="486.58" cy="502.1" r="0.74"/><circle cx="478.67" cy="491.67" r="0.57"/><circle cx="436.39" cy="312.28" r="0.73"/><circle cx="508.74" cy="408.04" r="0.77"/><circle cx="477.59" cy="401.52" r="0.82"/><circle cx="441.77" cy="372.99" r="0.74"/><circle cx="437.35" cy="324.21" r="0.77"/><circle cx="412.96" cy="337.04" r="0.65"/><circle cx="497.53" cy="420.01" r="0.63"/><circle cx="482.54" cy="414.95" r="0.95"/><circle cx="487.76" cy="479.5" r="0.63"/><circle cx="468.1" cy="436.17" r="0.62"/><circle cx="480.7" cy="352.56" r="0.56"/><circle cx="503.33" cy="408.66" r="0.92"/><circle cx="496.24" cy="470.41" r="0.76"/><circle cx="459.41" cy="468.51" r="0.58"/><circle cx="440.68" cy="431.06" r="0.56"/><circle cx="479.09" cy="502.96" r="0.77"/><circle cx="486.28" cy="321.35" r="0.84"/><circle cx="437.88" cy="326.45" r="0.88"/><circle cx="472.41" cy="436.99" r="0.76"/><circle cx="496.26" cy="373.49" r="0.88"/><circle cx="498.74" cy="365.85" r="0.73"/><circle cx="487.76" cy="379.74" r="0.63"/><circle cx="487.6" cy="311.29" r="0.91"/><circle cx="496.11" cy="413.12" r="0.95"/><circle cx="486.58" cy="317.42" r="0.77"/><circle cx="499.63" cy="357.24" r="0.76"/><circle cx="450.34" cy="401.95" r="0.88"/><circle cx="468.59" cy="396.11" r="0.6"/><circle cx="484.33" cy="444.39" r="0.68"/><circle cx="466.62" cy="435.19" r="0.93"/><circle cx="469.1" cy="383.17" r="0.61"/><circle cx="500.01" cy="495" r="0.87"/><circle cx="493.87" cy="457.48" r="0.58"/><circle cx="463.04" cy="391.99" r="0.65"/><circle cx="493.6" cy="344.2" r="0.75"/><circle cx="483.91" cy="351.38" r="0.63"/><circle cx="449.81" cy="384.47" r="0.76"/><circle cx="481.45" cy="333.56" r="0.91"/><circle cx="505.95" cy="380.26" r="0.68"/><circle cx="451.84" cy="415.86" r="0.61"/><circle cx="477.28" cy="349.36" r="0.83"/><circle cx="495.63" cy="510.44" r="0.9"/><circle cx="461.84" cy="432.9" r="0.65"/><circle cx="507.45" cy="350.33" r="0.57"/><circle cx="448.3" cy="316.29" r="0.93"/><circle cx="467.94" cy="428.08" r="0.92"/><circle cx="500.27" cy="481.87" r="0.9"/><circle cx="449.11" cy="325.28" r="0.82"/><circle cx="454.89" cy="319.92" r="0.8"/><circle cx="492.71" cy="463.87" r="0.87"/><circle cx="505.98" cy="451.21" r="0.82"/><circle cx="453.5" cy="356.55" r="0.71"/><circle cx="490.93" cy="493.2" r="0.72"/><circle cx="468.07" cy="384.45" r="0.88"/><circle cx="497.08" cy="476.89" r="0.71"/><circle cx="497.61" cy="318.47" r="0.81"/><circle cx="488.28" cy="448.35" r="0.65"/><circle cx="427.7" cy="319.77" r="0.61"/><circle cx="485.24" cy="499.77" r="0.68"/><circle cx="455.52" cy="372.17" r="0.85"/><circle cx="495.96" cy="401.56" r="0.86"/><circle cx="488.41" cy="492.25" r="0.95"/><circle cx="492.41" cy="460" r="0.64"/><circle cx="477.54" cy="465.12" r="0.66"/><circle cx="477.02" cy="436.3" r="0.75"/><circle cx="469.35" cy="382.07" r="0.59"/><circle cx="462.59" cy="366.19" r="0.92"/><circle cx="506.33" cy="400.21" r="0.88"/><circle cx="486.05" cy="413.18" r="0.79"/><circle cx="485.18" cy="428.69" r="0.67"/><circle cx="464.89" cy="409.12" r="0.85"/><circle cx="496.33" cy="431.02" r="0.91"/><circle cx="502.87" cy="341.28" r="0.63"/><circle cx="467.89" cy="423.57" r="0.9"/><circle cx="445.69" cy="316.81" r="0.86"/><circle cx="489.87" cy="437.09" r="0.78"/><circle cx="498.38" cy="514.59" r="0.94"/><circle cx="496.31" cy="361.15" r="0.85"/><circle cx="499.45" cy="467.93" r="0.84"/><circle cx="457.03" cy="308.92" r="0.95"/><circle cx="507.1" cy="314.7" r="0.92"/><circle cx="470.09" cy="376.97" r="0.74"/><circle cx="478.92" cy="507.26" r="0.78"/><circle cx="508.64" cy="457.88" r="0.84"/><circle cx="472.3" cy="442.17" r="0.88"/><circle cx="501.29" cy="468.72" r="0.94"/><circle cx="489.37" cy="402.06" r="0.88"/><circle cx="485.77" cy="482.04" r="0.8"/><circle cx="477.57" cy="367.06" r="0.93"/><circle cx="508.23" cy="310.95" r="0.92"/><circle cx="490" cy="369.87" r="0.75"/><circle cx="505.53" cy="447.49" r="0.85"/><circle cx="470.98" cy="478.72" r="0.62"/><circle cx="466.09" cy="467.51" r="0.63"/><circle cx="483.81" cy="324.04" r="0.68"/><circle cx="440.64" cy="325.89" r="0.58"/><circle cx="469.58" cy="327.04" r="0.81"/><circle cx="478.94" cy="493.77" r="0.59"/><circle cx="413.17" cy="345.75" r="0.9"/><circle cx="466.77" cy="391.17" r="0.91"/><circle cx="457.63" cy="439.8" r="0.86"/><circle cx="479.43" cy="455.83" r="0.77"/><circle cx="436.2" cy="316.46" r="0.62"/><circle cx="457.09" cy="370.12" r="0.6"/><circle cx="421.66" cy="317.97" r="0.71"/><circle cx="480.14" cy="442.32" r="0.79"/><circle cx="422.1" cy="316.26" r="0.9"/><circle cx="497.83" cy="341.25" r="0.65"/><circle cx="504.2" cy="397.79" r="0.6"/><circle cx="459.38" cy="436.84" r="0.58"/><circle cx="479.55" cy="433.73" r="0.86"/><circle cx="481.34" cy="360.15" r="0.83"/><circle cx="494.06" cy="489.51" r="0.87"/><circle cx="427.21" cy="348.07" r="0.78"/><circle cx="489.66" cy="464.69" r="0.79"/><circle cx="495.2" cy="482.77" r="0.73"/><circle cx="507.08" cy="456.44" r="0.61"/><circle cx="500.52" cy="408.23" r="0.77"/><circle cx="476.84" cy="335.84" r="0.65"/><circle cx="497.03" cy="339.6" r="0.74"/><circle cx="468.19" cy="501.53" r="0.76"/><circle cx="496.54" cy="436.49" r="0.7"/><circle cx="461.88" cy="423.52" r="0.68"/><circle cx="453.67" cy="338.5" r="0.69"/><circle cx="482.88" cy="389.54" r="0.56"/><circle cx="473" cy="469.68" r="0.79"/><circle cx="477.95" cy="478.12" r="0.62"/><circle cx="506.05" cy="504.26" r="0.93"/><circle cx="449.01" cy="340.01" r="0.88"/><circle cx="507.25" cy="448.34" r="0.64"/><circle cx="434.53" cy="373.21" r="0.84"/><circle cx="469.01" cy="337.42" r="0.92"/><circle cx="474.67" cy="340.88" r="0.78"/><circle cx="461.91" cy="465.59" r="0.86"/><circle cx="470.33" cy="409.2" r="0.9"/><circle cx="485.34" cy="426.76" r="0.56"/><circle cx="455.19" cy="439.7" r="0.91"/><circle cx="505.69" cy="404.79" r="0.82"/><circle cx="505.9" cy="458.93" r="0.68"/><circle cx="472.86" cy="311.19" r="0.7"/><circle cx="505.29" cy="382.71" r="0.71"/><circle cx="498.41" cy="362.1" r="0.77"/><circle cx="480.41" cy="469.19" r="0.7"/><circle cx="507.42" cy="342.15" r="0.75"/><circle cx="463.27" cy="351.18" r="0.64"/><circle cx="423.36" cy="322.59" r="0.73"/><circle cx="458.39" cy="501.99" r="0.92"/><circle cx="456.52" cy="404.42" r="0.58"/><circle cx="439.12" cy="316.17" r="0.92"/><circle cx="452.3" cy="433.55" r="0.77"/><circle cx="477.76" cy="387.77" r="0.82"/><circle cx="457.78" cy="361.94" r="0.55"/><circle cx="455.18" cy="327.24" r="0.68"/><circle cx="470.69" cy="501.97" r="0.71"/><circle cx="465.37" cy="373.69" r="0.91"/><circle cx="481.96" cy="352.14" r="0.68"/><circle cx="449.12" cy="442.78" r="0.86"/><circle cx="477.11" cy="391.6" r="0.91"/><circle cx="484.25" cy="496.75" r="0.6"/><circle cx="490.3" cy="455.04" r="0.57"/><circle cx="500.35" cy="379.96" r="0.83"/><circle cx="506.85" cy="499.02" r="0.55"/><circle cx="484.86" cy="430.67" r="0.57"/><circle cx="448.07" cy="336.21" r="0.77"/><circle cx="505.65" cy="511.11" r="0.82"/><circle cx="455.38" cy="397.11" r="0.61"/><circle cx="474.66" cy="316.01" r="0.89"/><circle cx="470.07" cy="490.53" r="0.9"/><circle cx="430.61" cy="331.78" r="0.6"/><circle cx="463.59" cy="417.4" r="0.67"/><circle cx="474.91" cy="437.82" r="0.85"/><circle cx="507.39" cy="495.19" r="0.57"/><circle cx="478.6" cy="436.01" r="0.93"/><circle cx="493.93" cy="443.96" r="0.6"/><circle cx="477.08" cy="389.25" r="0.76"/><circle cx="451.94" cy="334.66" r="0.81"/><circle cx="483.67" cy="412.88" r="0.56"/><circle cx="495.98" cy="433.4" r="0.83"/><circle cx="441.54" cy="327.39" r="0.82"/><circle cx="502.75" cy="314.11" r="0.78"/><circle cx="460.88" cy="389.31" r="0.59"/><circle cx="428.05" cy="379.78" r="0.74"/><circle cx="494.83" cy="512.62" r="0.9"/><circle cx="485.53" cy="324.55" r="0.8"/><circle cx="507.14" cy="496.21" r="0.72"/><circle cx="440.7" cy="385.86" r="0.87"/><circle cx="509.27" cy="471.97" r="0.65"/><circle cx="447.38" cy="331.74" r="0.67"/><circle cx="505.25" cy="477.39" r="0.7"/><circle cx="483.03" cy="425.18" r="0.73"/><circle cx="434.25" cy="366.67" r="0.84"/><circle cx="474.67" cy="355.2" r="0.87"/><circle cx="503.76" cy="469.98" r="0.89"/><circle cx="464.09" cy="471.59" r="0.91"/><circle cx="499.33" cy="388.13" r="0.61"/><circle cx="438.52" cy="329.29" r="0.94"/><circle cx="440.6" cy="393.71" r="0.56"/><circle cx="494.68" cy="441.62" r="0.76"/><circle cx="467.49" cy="506.63" r="0.81"/><circle cx="449.58" cy="314.75" r="0.73"/><circle cx="453.65" cy="360.67" r="0.64"/><circle cx="426.06" cy="370.31" r="0.74"/><circle cx="483.01" cy="478.28" r="0.6"/><circle cx="441.94" cy="389.23" r="0.69"/><circle cx="504.44" cy="376.31" r="0.59"/></g>
<g fill="#961fa2" stroke="#961fa2" stroke-width="1.7"><g id="blobs"><ellipse cx="430.81" cy="316.23" rx="1.14" ry="0.96"/><ellipse cx="442.94" cy="403.76" rx="1.49" ry="1.72"/><ellipse cx="505.65" cy="408.27" rx="2.26" ry="1.81"/><ellipse cx="508.08" cy="436.87" rx="1.01" ry="0.9"/><ellipse cx="490.03" cy="375.41" rx="1.03" ry="1.1"/><ellipse cx="444.2" cy="395.69" rx="2.36" ry="2.36"/><ellipse cx="503.28" cy="438.05" rx="1.08" ry="1.05"/><ellipse cx="501.65" cy="430.52" rx="1.35" ry="1.52"/><ellipse cx="497.66" cy="495.87" rx="1.31" ry="1.55"/><ellipse cx="492.12" cy="502.13" rx="1.21" ry="1"/><ellipse cx="492.17" cy="452.76" rx="1.84" ry="2.37"/><ellipse cx="440.98" cy="379.31" rx="1.87" ry="1.58"/><ellipse cx="455.46" cy="342.24" rx="1.08" ry="1.11"/><ellipse cx="507.29" cy="446.03" rx="1.05" ry="1.35"/><ellipse cx="469.88" cy="494.5" rx="1.56" ry="1.81"/><ellipse cx="492.89" cy="434.68" rx="1.31" ry="1.28"/><ellipse cx="429.73" cy="343.79" rx="1.89" ry="2.01"/><ellipse cx="491.61" cy="319.57" rx="1.13" ry="1.45"/><ellipse cx="461.28" cy="460.82" rx="1.47" ry="1.29"/><ellipse cx="465.14" cy="419.71" rx="1.27" ry="1.24"/><ellipse cx="479.56" cy="413.29" rx="1.1" ry="1.31"/><ellipse cx="497.41" cy="410.45" rx="2.61" ry="2.44"/><ellipse cx="458.52" cy="397.04" rx="1.72" ry="1.34"/><ellipse cx="481.69" cy="450.58" rx="2.55" ry="2.02"/><ellipse cx="480" cy="500.5" rx="1.38" ry="1.38"/><ellipse cx="508.59" cy="506.01" rx="1.7" ry="1.57"/><ellipse cx="502.26" cy="370.38" rx="1.29" ry="0.94"/><ellipse cx="459.41" cy="355.95" rx="1.67" ry="1.31"/><ellipse cx="453.79" cy="378.98" rx="1.86" ry="1.54"/><ellipse cx="475.38" cy="388.44" rx="1.27" ry="1.25"/><ellipse cx="461.54" cy="482.89" rx="1.14" ry="1.21"/><ellipse cx="504.02" cy="403.59" rx="1.04" ry="1.18"/><ellipse cx="491.85" cy="456.77" rx="1.6" ry="1.53"/><ellipse cx="481.69" cy="412.52" rx="1.46" ry="1.42"/><ellipse cx="464.55" cy="387.27" rx="1.75" ry="1.58"/><ellipse cx="495.84" cy="355.86" rx="2.23" ry="1.71"/><ellipse cx="493.22" cy="347.01" rx="1.25" ry="1.07"/><ellipse cx="482.39" cy="499.28" rx="1.55" ry="1.85"/><ellipse cx="487.02" cy="313.65" rx="1.47" ry="1.86"/><ellipse cx="451.85" cy="354.16" rx="1.49" ry="1.2"/><ellipse cx="487.74" cy="469.6" rx="1.55" ry="1.43"/><ellipse cx="506.66" cy="317.41" rx="1.37" ry="0.91"/><ellipse cx="484.62" cy="508.8" rx="1.26" ry="1.35"/><ellipse cx="504.42" cy="513.16" rx="1.1" ry="1.07"/><ellipse cx="493.88" cy="397.87" rx="2.18" ry="1.92"/><ellipse cx="505.36" cy="494.31" rx="1.52" ry="1.45"/><ellipse cx="504.71" cy="508.11" rx="0.92" ry="1.08"/><ellipse cx="504.41" cy="364.93" rx="1.52" ry="1.48"/><ellipse cx="459.72" cy="487.31" rx="1.16" ry="1.22"/><ellipse cx="454.47" cy="351.62" rx="1.26" ry="1.16"/><ellipse cx="422.51" cy="326.77" rx="1.83" ry="1.61"/><ellipse cx="473.96" cy="333.23" rx="1.41" ry="1.77"/><ellipse cx="504.94" cy="392.78" rx="1.45" ry="1.44"/><ellipse cx="486.64" cy="444.21" rx="1.02" ry="1.28"/><ellipse cx="482.88" cy="400.88" rx="1.29" ry="1.26"/><ellipse cx="484.24" cy="370.35" rx="1.24" ry="1.36"/><ellipse cx="489.38" cy="450.43" rx="1.37" ry="1.48"/><ellipse cx="480.7" cy="319.21" rx="1.94" ry="1.69"/><ellipse cx="478.29" cy="438.76" rx="1.23" ry="1.28"/><ellipse cx="475.39" cy="491.28" rx="1.29" ry="1.07"/><ellipse cx="507.97" cy="380.08" rx="1.9" ry="1.74"/><ellipse cx="466.25" cy="425.25" rx="1.1" ry="1.58"/><ellipse cx="499.86" cy="454.66" rx="1.27" ry="1.32"/><ellipse cx="499.01" cy="349.17" rx="1" ry="0.95"/><ellipse cx="437.13" cy="388.21" rx="1.54" ry="1.79"/><ellipse cx="482.95" cy="447.32" rx="1.19" ry="1.64"/><ellipse cx="459.33" cy="351.64" rx="1.78" ry="1.87"/><ellipse cx="460.81" cy="363.71" rx="2.12" ry="1.54"/><ellipse cx="425.1" cy="308.79" rx="1.2" ry="1.83"/><ellipse cx="506.2" cy="326.55" rx="1.69" ry="1.6"/><ellipse cx="431.45" cy="372.16" rx="2.83" ry="2.76"/><ellipse cx="475.65" cy="401.06" rx="1.26" ry="1"/><ellipse cx="470.83" cy="386.11" rx="2.07" ry="1.76"/><ellipse cx="489.17" cy="355.94" rx="1.14" ry="1.51"/><ellipse cx="494.02" cy="334.01" rx="1.5" ry="1.76"/><ellipse cx="472.8" cy="394.43" rx="1.44" ry="1.2"/><ellipse cx="486.76" cy="493.93" rx="1.06" ry="1.08"/><ellipse cx="446.03" cy="386.84" rx="1.4" ry="1.27"/><ellipse cx="467.37" cy="330.65" rx="1.12" ry="1"/><ellipse cx="474.63" cy="486.94" rx="1.23" ry="1.16"/><ellipse cx="466.69" cy="355.63" rx="2.06" ry="2.44"/><ellipse cx="502.16" cy="501.3" rx="1.46" ry="1.35"/><ellipse cx="507.58" cy="387.93" rx="1.61" ry="1.4"/><ellipse cx="499.12" cy="493.52" rx="1.27" ry="0.9"/><ellipse cx="445.02" cy="313.09" rx="1.71" ry="1.52"/><ellipse cx="471.27" cy="360.75" rx="1.7" ry="1.19"/><ellipse cx="476.24" cy="455.37" rx="1.08" ry="1.41"/><ellipse cx="501.45" cy="462.24" rx="1.44" ry="1.6"/><ellipse cx="446.29" cy="379.23" rx="1.05" ry="1.42"/><ellipse cx="508.26" cy="514.35" rx="1.15" ry="1.49"/><ellipse cx="498.32" cy="321.99" rx="1.68" ry="2.41"/><ellipse cx="449.35" cy="362.62" rx="0.93" ry="1.21"/><ellipse cx="489.55" cy="423.71" rx="1.48" ry="1.7"/><ellipse cx="435.89" cy="354.04" rx="1.74" ry="1.28"/><ellipse cx="494.3" cy="316.33" rx="1.58" ry="1.31"/><ellipse cx="445.16" cy="360.95" rx="1.08" ry="1.35"/><ellipse cx="494" cy="515.34" rx="1.11" ry="1.24"/><ellipse cx="489.41" cy="331.2" rx="1.62" ry="1.49"/><ellipse cx="494.77" cy="381.25" rx="1.38" ry="1.76"/><ellipse cx="492.67" cy="377.87" rx="1.66" ry="1.76"/><ellipse cx="486.92" cy="395.12" rx="1.23" ry="1.35"/><ellipse cx="468.25" cy="373.68" rx="1.22" ry="1.06"/><ellipse cx="508.9" cy="341.46" rx="0.94" ry="1.14"/><ellipse cx="493.06" cy="357.44" rx="1.36" ry="1.17"/><ellipse cx="500.03" cy="383.69" rx="1.58" ry="1.25"/><ellipse cx="483.24" cy="502.9" rx="1.62" ry="1.59"/><ellipse cx="449.9" cy="355.51" rx="1.28" ry="0.91"/><ellipse cx="459.81" cy="323.09" rx="1.03" ry="1.05"/><ellipse cx="455.88" cy="442.61" rx="0.94" ry="1.33"/><ellipse cx="486.84" cy="375.8" rx="0.84" ry="0.87"/><ellipse cx="464.7" cy="452.23" rx="1.1" ry="1.05"/><ellipse cx="457.48" cy="449.52" rx="1.2" ry="1.1"/><ellipse cx="488.73" cy="361.95" rx="1.09" ry="1.34"/><ellipse cx="495.32" cy="478.59" rx="0.99" ry="0.96"/><ellipse cx="432.35" cy="428.76" rx="1.01" ry="1.01"/><ellipse cx="493.91" cy="368.03" rx="1.3" ry="0.98"/><ellipse cx="494.18" cy="418.37" rx="1.24" ry="1.4"/><ellipse cx="508.21" cy="467.75" rx="1.57" ry="2.06"/><ellipse cx="476.48" cy="395.87" rx="1.27" ry="1.09"/><ellipse cx="471.17" cy="487.83" rx="0.95" ry="1.05"/><ellipse cx="503.82" cy="401.36" rx="1.19" ry="1.82"/><ellipse cx="486.35" cy="386.65" rx="1.3" ry="1.27"/><ellipse cx="493.96" cy="424.88" rx="1.79" ry="1.28"/><ellipse cx="472.01" cy="424.89" rx="2.77" ry="2.68"/><ellipse cx="471.08" cy="480.21" rx="0.94" ry="1.43"/><ellipse cx="451.18" cy="358.05" rx="1.39" ry="1.77"/><ellipse cx="464.81" cy="439.85" rx="1.31" ry="1.84"/><ellipse cx="482.23" cy="506.9" rx="1.57" ry="1.74"/><ellipse cx="432.16" cy="377.84" rx="1.19" ry="1.46"/><ellipse cx="484.12" cy="491.43" rx="1.27" ry="1.33"/><ellipse cx="485" cy="515.68" rx="1.61" ry="1.39"/><ellipse cx="504.17" cy="457.43" rx="1.25" ry="1.01"/><ellipse cx="483.73" cy="432.68" rx="1.28" ry="1.04"/><ellipse cx="489.03" cy="485.83" rx="2.59" ry="2.16"/><ellipse cx="436.99" cy="339.13" rx="1.49" ry="1.58"/><ellipse cx="417.11" cy="354.04" rx="1.35" ry="1.45"/><ellipse cx="474.78" cy="309.4" rx="1.3" ry="1.61"/><ellipse cx="478.31" cy="340.78" rx="0.98" ry="1.42"/><ellipse cx="472.66" cy="501.41" rx="1.19" ry="1.24"/><ellipse cx="484.62" cy="457.9" rx="1.01" ry="1.29"/><ellipse cx="489.25" cy="406.94" rx="2.12" ry="1.67"/><ellipse cx="475.5" cy="484.6" rx="1.05" ry="1.3"/><ellipse cx="429.13" cy="318.26" rx="1.38" ry="1.78"/><ellipse cx="497.53" cy="467.98" rx="1.66" ry="1.58"/><ellipse cx="489.27" cy="377.6" rx="1.09" ry="1.06"/><ellipse cx="444.2" cy="329.81" rx="1.08" ry="0.96"/><ellipse cx="491.34" cy="359.22" rx="0.99" ry="1.3"/><ellipse cx="483.28" cy="382.57" rx="1.65" ry="1.12"/><ellipse cx="500.45" cy="491.71" rx="1.38" ry="1.49"/><ellipse cx="473.32" cy="375.04" rx="1.37" ry="1.64"/><ellipse cx="501.09" cy="483.84" rx="1.12" ry="1.33"/><ellipse cx="500.53" cy="386.16" rx="1.94" ry="1.35"/><ellipse cx="456.15" cy="321.8" rx="1.11" ry="0.85"/><ellipse cx="498.85" cy="442.48" rx="0.95" ry="1.05"/><ellipse cx="497.53" cy="512.64" rx="1.46" ry="1.23"/><ellipse cx="495.25" cy="349.05" rx="1.38" ry="1.58"/><ellipse cx="444.91" cy="433.04" rx="1.04" ry="1.12"/><ellipse cx="493.44" cy="311.87" rx="1.2" ry="1.1"/><ellipse cx="496.22" cy="515.48" rx="0.87" ry="1.17"/><ellipse cx="457.27" cy="401.4" rx="1.21" ry="1.23"/><ellipse cx="493.07" cy="475.27" rx="2.39" ry="1.94"/><ellipse cx="479.34" cy="426.75" rx="1.21" ry="1.16"/><ellipse cx="427.94" cy="327.62" rx="1.36" ry="1.12"/><ellipse cx="477.12" cy="382.75" rx="2.76" ry="1.81"/><ellipse cx="448.92" cy="419.83" rx="1.28" ry="1.74"/><ellipse cx="449.89" cy="380.96" rx="1.22" ry="1.16"/><ellipse cx="470.48" cy="310.2" rx="1.61" ry="1.54"/><ellipse cx="464.45" cy="435.19" rx="1.44" ry="1.51"/><ellipse cx="499.09" cy="452.4" rx="1.68" ry="1.52"/><ellipse cx="506.23" cy="463.54" rx="2.41" ry="1.94"/><ellipse cx="507.35" cy="425.94" rx="1.58" ry="1.33"/><ellipse cx="479.51" cy="391.57" rx="1.7" ry="1.84"/><ellipse cx="465.57" cy="366.79" rx="1.24" ry="1.36"/><ellipse cx="500.16" cy="505.45" rx="1.12" ry="1.05"/><ellipse cx="480.22" cy="329" rx="1.18" ry="1.42"/><ellipse cx="498.02" cy="336.62" rx="1.17" ry="1.4"/><ellipse cx="480.11" cy="398.05" rx="1.64" ry="1.8"/><ellipse cx="495.14" cy="454.31" rx="2.71" ry="2.25"/><ellipse cx="488.49" cy="458.7" rx="1.38" ry="1.47"/><ellipse cx="462.51" cy="353.69" rx="1.82" ry="2.56"/><ellipse cx="450.7" cy="386.64" rx="1.34" ry="1.66"/><ellipse cx="493.9" cy="402.61" rx="1.49" ry="1.73"/><ellipse cx="486.17" cy="370.35" rx="1.09" ry="0.99"/><ellipse cx="436.87" cy="372" rx="1.61" ry="2.01"/><ellipse cx="457.86" cy="394.27" rx="0.96" ry="1.29"/><ellipse cx="485.24" cy="475.86" rx="1.36" ry="1.14"/><ellipse cx="485.14" cy="505.51" rx="1.14" ry="1.59"/><ellipse cx="496.77" cy="461.07" rx="1.03" ry="0.89"/><ellipse cx="467.16" cy="456.53" rx="1.2" ry="1.27"/><ellipse cx="487.35" cy="439.15" rx="1.28" ry="1.41"/><ellipse cx="489.06" cy="410.08" rx="1.65" ry="1.5"/><ellipse cx="450.99" cy="374.96" rx="2.59" ry="1.98"/><ellipse cx="504.14" cy="389" rx="1.56" ry="1.59"/><ellipse cx="495.51" cy="331.84" rx="0.94" ry="1.15"/><ellipse cx="429.26" cy="313.38" rx="1.54" ry="1.31"/><ellipse cx="476.43" cy="448.01" rx="1.29" ry="1.49"/><ellipse cx="485.77" cy="473.43" rx="0.84" ry="1.08"/><ellipse cx="509.22" cy="483.28" rx="2.39" ry="1.95"/><ellipse cx="480.92" cy="344.91" rx="2.14" ry="2.38"/><ellipse cx="475.11" cy="511.32" rx="1.29" ry="1.12"/><ellipse cx="499.23" cy="457.72" rx="1.42" ry="1.39"/><ellipse cx="467.4" cy="371.17" rx="1.45" ry="1.22"/><ellipse cx="496.82" cy="484.92" rx="1.83" ry="1.33"/><ellipse cx="472.92" cy="510.3" rx="1.17" ry="1.26"/><ellipse cx="487.45" cy="511.13" rx="1.26" ry="1.13"/><ellipse cx="505.74" cy="347.95" rx="1.17" ry="1.1"/><ellipse cx="432.3" cy="315.02" rx="1.42" ry="1.38"/><ellipse cx="461.65" cy="485.38" rx="1.66" ry="1.51"/><ellipse cx="461.87" cy="345.25" rx="1.67" ry="1.22"/><ellipse cx="450.93" cy="329.64" rx="1.73" ry="1.58"/><ellipse cx="485.66" cy="511.66" rx="0.99" ry="1.25"/><ellipse cx="501.68" cy="333.44" rx="1.99" ry="2.36"/><ellipse cx="467.24" cy="465.46" rx="1.54" ry="1.22"/><ellipse cx="507.96" cy="421.37" rx="1.58" ry="1.34"/><ellipse cx="468.96" cy="508.06" rx="1.68" ry="1.42"/><ellipse cx="483.81" cy="318.19" rx="1.37" ry="1.07"/><ellipse cx="506.07" cy="366.12" rx="0.93" ry="1.12"/><ellipse cx="464.51" cy="346.15" rx="1.38" ry="1.32"/><ellipse cx="508.46" cy="497.66" rx="1.66" ry="1.53"/><ellipse cx="470.54" cy="372.89" rx="1.34" ry="1.41"/><ellipse cx="433.57" cy="330.03" rx="1.11" ry="1.01"/><ellipse cx="501.62" cy="448.2" rx="1.74" ry="1.76"/><ellipse cx="430.75" cy="311.67" rx="1.42" ry="1.4"/><ellipse cx="453.11" cy="438.75" rx="1.3" ry="1.54"/><ellipse cx="507.93" cy="475.14" rx="1.45" ry="1.42"/><ellipse cx="466.72" cy="497.68" rx="1.53" ry="1.47"/><ellipse cx="434.07" cy="324.56" rx="1.63" ry="1.41"/><ellipse cx="458.08" cy="408.73" rx="1.29" ry="0.92"/><ellipse cx="462.85" cy="487.56" rx="1.27" ry="0.99"/><ellipse cx="494.72" cy="502.76" rx="1.03" ry="1.09"/><ellipse cx="484.3" cy="334.46" rx="0.93" ry="1.17"/><ellipse cx="460.51" cy="358.24" rx="1.47" ry="1.61"/><ellipse cx="495.35" cy="313.31" rx="1.24" ry="1.12"/><ellipse cx="464.89" cy="429.8" rx="1.03" ry="1.14"/><ellipse cx="498.51" cy="316.04" rx="1.24" ry="1.47"/><ellipse cx="475.16" cy="428.36" rx="1.41" ry="1.43"/><ellipse cx="482.31" cy="325.87" rx="1.62" ry="1.17"/><ellipse cx="480.93" cy="460" rx="1.24" ry="1.14"/><ellipse cx="489.58" cy="397.01" rx="1.29" ry="1.13"/><ellipse cx="489.41" cy="496.51" rx="1.34" ry="1.19"/><ellipse cx="447.22" cy="444.81" rx="0.93" ry="1.01"/><ellipse cx="491.85" cy="411.36" rx="1.01" ry="1.16"/><ellipse cx="482.46" cy="480.29" rx="1.34" ry="1.54"/><ellipse cx="479.55" cy="417.24" rx="2.45" ry="1.86"/><ellipse cx="472.22" cy="329.82" rx="1.38" ry="1.11"/><ellipse cx="456.8" cy="314.13" rx="0.91" ry="1.13"/><ellipse cx="490.22" cy="419.17" rx="1.52" ry="1.8"/><ellipse cx="496.01" cy="492.11" rx="1.19" ry="1.46"/><ellipse cx="480.22" cy="407.59" rx="1.12" ry="1.24"/><ellipse cx="503.46" cy="451.77" rx="1.01" ry="1.19"/><ellipse cx="502.28" cy="435.57" rx="1.71" ry="1.43"/><ellipse cx="493.4" cy="392.37" rx="1" ry="0.9"/><ellipse cx="473.33" cy="347.32" rx="1.22" ry="1.46"/><ellipse cx="496.14" cy="465.4" rx="1.29" ry="1.92"/><ellipse cx="494.09" cy="470.49" rx="1.32" ry="0.95"/><ellipse cx="474.89" cy="452.66" rx="1.55" ry="1.76"/><ellipse cx="471.73" cy="316.95" rx="1.37" ry="1.56"/><ellipse cx="492.26" cy="388.26" rx="2.11" ry="2.18"/><ellipse cx="466.98" cy="411.6" rx="1.14" ry="1.44"/><ellipse cx="447.81" cy="351.34" rx="1.21" ry="1.66"/><ellipse cx="482.55" cy="463.47" rx="1.57" ry="1.58"/><ellipse cx="487.42" cy="427.02" rx="1.24" ry="1.13"/><ellipse cx="502.11" cy="374.3" rx="0.91" ry="0.97"/><ellipse cx="472.77" cy="370.93" rx="1.46" ry="1.2"/><ellipse cx="494.65" cy="428.96" rx="0.95" ry="1"/><ellipse cx="481.28" cy="512.43" rx="1.37" ry="1.46"/><ellipse cx="482.4" cy="437.82" rx="1.49" ry="1.38"/><ellipse cx="460.63" cy="401.16" rx="1.99" ry="2.68"/><ellipse cx="478.8" cy="363.52" rx="1.37" ry="1.3"/><ellipse cx="481.45" cy="484.78" rx="1.53" ry="1.77"/><ellipse cx="471.36" cy="402.64" rx="1.59" ry="1.25"/><ellipse cx="435.8" cy="343.74" rx="0.98" ry="1.02"/><ellipse cx="455.26" cy="453.73" rx="1.7" ry="1.75"/><ellipse cx="461.27" cy="404.71" rx="2.48" ry="1.74"/><ellipse cx="445.85" cy="311.05" rx="1.38" ry="0.91"/><ellipse cx="494.47" cy="508.42" rx="1.86" ry="1.5"/><ellipse cx="502.46" cy="444.84" rx="1.05" ry="1.63"/><ellipse cx="447.56" cy="358.98" rx="1.31" ry="1.52"/><ellipse cx="507.95" cy="312.96" rx="1" ry="1.15"/><ellipse cx="506.53" cy="415.86" rx="1.15" ry="0.94"/><ellipse cx="483.88" cy="379.06" rx="1.06" ry="1.23"/><ellipse cx="455.12" cy="370.65" rx="1.13" ry="1.29"/><ellipse cx="461.99" cy="495.09" rx="1.2" ry="1.27"/><ellipse cx="507.68" cy="338.81" rx="1.89" ry="2.38"/><ellipse cx="499.87" cy="488.93" rx="0.94" ry="1.05"/><ellipse cx="484.06" cy="312.59" rx="1.2" ry="1.12"/><ellipse cx="491.21" cy="466.04" rx="1.79" ry="1.85"/><ellipse cx="509.04" cy="462.95" rx="1.37" ry="1.27"/><ellipse cx="488.06" cy="482.54" rx="1.46" ry="1.63"/><ellipse cx="484.06" cy="459.78" rx="0.85" ry="1.03"/><ellipse cx="499.68" cy="350.93" rx="1.01" ry="0.9"/><ellipse cx="458.65" cy="315.67" rx="1.65" ry="1.54"/><ellipse cx="478.6" cy="323.6" rx="1.92" ry="1.65"/><ellipse cx="480.63" cy="339.33" rx="1.64" ry="1.52"/><ellipse cx="507.6" cy="485.42" rx="0.95" ry="1.31"/><ellipse cx="488.06" cy="400.49" rx="1.04" ry="1.39"/><ellipse cx="432.02" cy="322.78" rx="1.65" ry="1.43"/><ellipse cx="461.78" cy="329.88" rx="1.7" ry="1.77"/><ellipse cx="460.86" cy="371.71" rx="1.06" ry="1.11"/><ellipse cx="455.38" cy="382.9" rx="1.05" ry="1.36"/><ellipse cx="509.19" cy="370.03" rx="1.7" ry="1.43"/><ellipse cx="455.85" cy="338.79" rx="1.03" ry="1.59"/><ellipse cx="487.69" cy="500.07" rx="1" ry="1.07"/><ellipse cx="494.91" cy="494.29" rx="1.82" ry="1.37"/><ellipse cx="490.94" cy="479.42" rx="1.65" ry="1.17"/><ellipse cx="454.69" cy="415.6" rx="1.11" ry="0.99"/><ellipse cx="486.47" cy="420.44" rx="1.07" ry="1"/><ellipse cx="508.32" cy="451.56" rx="1.01" ry="0.91"/><ellipse cx="490.93" cy="349.1" rx="1.16" ry="1.71"/><ellipse cx="427.97" cy="335.07" rx="1.52" ry="1.28"/><ellipse cx="467.91" cy="454.52" rx="1.24" ry="1.29"/><ellipse cx="476.86" cy="404.44" rx="1.48" ry="1.42"/><ellipse cx="449.33" cy="331.81" rx="1.42" ry="1.32"/><ellipse cx="452.37" cy="384.31" rx="1" ry="1.24"/><ellipse cx="486.55" cy="462.29" rx="1.39" ry="1.79"/><ellipse cx="473.48" cy="473.96" rx="1.04" ry="1.19"/><ellipse cx="465.41" cy="326.58" rx="1.28" ry="0.95"/><ellipse cx="503.81" cy="351.99" rx="1.05" ry="1.57"/><ellipse cx="506.09" cy="372.14" rx="1.14" ry="0.95"/><ellipse cx="460.04" cy="381.77" rx="1.4" ry="1.56"/><ellipse cx="475.51" cy="471.04" rx="1.17" ry="1.05"/><ellipse cx="475.34" cy="413.3" rx="1.83" ry="1.22"/><ellipse cx="455.91" cy="318.34" rx="1.42" ry="1.4"/><ellipse cx="502.15" cy="440.9" rx="1.44" ry="1.38"/><ellipse cx="434.25" cy="313.96" rx="1.86" ry="1.65"/><ellipse cx="496.98" cy="499.48" rx="1.9" ry="1.58"/><ellipse cx="482.43" cy="408.21" rx="1.48" ry="1.09"/><ellipse cx="474.74" cy="432.78" rx="1.12" ry="1.4"/><ellipse cx="446.96" cy="426.38" rx="1.96" ry="2.25"/><ellipse cx="489.63" cy="358.77" rx="1.37" ry="0.88"/><ellipse cx="485.58" cy="424.81" rx="1.05" ry="1.55"/><ellipse cx="453.33" cy="394.75" rx="2.21" ry="1.88"/><ellipse cx="465.94" cy="444.65" rx="1.14" ry="1.12"/><ellipse cx="440.89" cy="309.48" rx="1.14" ry="1.05"/><ellipse cx="477.46" cy="351.56" rx="1.21" ry="1.05"/><ellipse cx="476.58" cy="364.71" rx="1.41" ry="1.07"/><ellipse cx="504.71" cy="474.22" rx="2.01" ry="1.68"/><ellipse cx="505.58" cy="395.94" rx="2.63" ry="2.1"/><ellipse cx="464.87" cy="369.88" rx="1.35" ry="1.12"/><ellipse cx="429.68" cy="321.53" rx="1.31" ry="1.41"/><ellipse cx="493.82" cy="499.28" rx="1.32" ry="1.06"/><ellipse cx="465.97" cy="315" rx="1.73" ry="1.86"/><ellipse cx="461.06" cy="398.22" rx="1.88" ry="1.42"/><ellipse cx="480.48" cy="309.1" rx="1.31" ry="1.21"/><ellipse cx="475.79" cy="377.61" rx="1.43" ry="1.76"/><ellipse cx="440.6" cy="363.84" rx="2.05" ry="1.98"/><ellipse cx="477.41" cy="485.04" rx="1.01" ry="1.33"/><ellipse cx="488.83" cy="390.77" rx="1.34" ry="1.54"/><ellipse cx="435.94" cy="376.32" rx="1.56" ry="1.06"/><ellipse cx="480.03" cy="474.35" rx="1.76" ry="1.61"/><ellipse cx="455.54" cy="446.38" rx="1.18" ry="1.56"/><ellipse cx="428.17" cy="362.06" rx="1.06" ry="1.29"/><ellipse cx="480.93" cy="400.53" rx="1.1" ry="0.99"/><ellipse cx="456.41" cy="346.59" rx="0.92" ry="1"/><ellipse cx="451.88" cy="369.89" rx="0.9" ry="1.09"/><ellipse cx="483.35" cy="423.57" rx="1.08" ry="1.3"/><ellipse cx="471.55" cy="399.17" rx="2.11" ry="1.87"/><ellipse cx="450.7" cy="365.16" rx="1.14" ry="1.05"/><ellipse cx="493.72" cy="409.02" rx="2.2" ry="2.3"/><ellipse cx="419.01" cy="339.48" rx="1.1" ry="1.06"/><ellipse cx="466.82" cy="437.88" rx="1.49" ry="1.36"/><ellipse cx="499.7" cy="501.35" rx="1.28" ry="1.83"/><ellipse cx="441.48" cy="335.69" rx="2.12" ry="1.71"/><ellipse cx="493.68" cy="375.41" rx="1.31" ry="1.44"/><ellipse cx="472.92" cy="411.01" rx="2.22" ry="1.75"/><ellipse cx="456.74" cy="351.75" rx="1.5" ry="1.26"/><ellipse cx="469.22" cy="345.12" rx="1.1" ry="1.6"/><ellipse cx="434.15" cy="358.08" rx="0.87" ry="1.22"/><ellipse cx="462.41" cy="338.74" rx="1.88" ry="1.59"/><ellipse cx="504.42" cy="480.8" rx="1.43" ry="1.24"/><ellipse cx="470.44" cy="343.02" rx="1.31" ry="1.34"/><ellipse cx="508.45" cy="362.6" rx="1" ry="1.22"/><ellipse cx="504.16" cy="492.44" rx="1.31" ry="1.03"/><ellipse cx="498.9" cy="380.9" rx="1.09" ry="1.24"/><ellipse cx="414.88" cy="314.85" rx="1.55" ry="1.49"/><ellipse cx="478.1" cy="422.29" rx="1.39" ry="1.6"/><ellipse cx="466.79" cy="405.72" rx="1.07" ry="1.02"/><ellipse cx="468.96" cy="388.3" rx="1.05" ry="1"/><ellipse cx="506.68" cy="321.76" rx="1.19" ry="1.49"/><ellipse cx="495.77" cy="438.72" rx="1.77" ry="2.31"/><ellipse cx="503.94" cy="310.38" rx="2.4" ry="1.74"/><ellipse cx="421.67" cy="330.06" rx="1.92" ry="2.33"/><ellipse cx="504.05" cy="423.15" rx="1.21" ry="1.3"/><ellipse cx="445.5" cy="356.81" rx="1.46" ry="1.17"/><ellipse cx="465.21" cy="414.2" rx="1.23" ry="1.21"/><ellipse cx="487.22" cy="360.09" rx="1.22" ry="1.36"/><ellipse cx="490" cy="481.05" rx="1.28" ry="0.97"/><ellipse cx="452.03" cy="331.89" rx="1.47" ry="1.69"/><ellipse cx="487.26" cy="368.91" rx="1.23" ry="1.04"/><ellipse cx="483.21" cy="374.36" rx="1.32" ry="1.59"/><ellipse cx="463.44" cy="492.43" rx="1.46" ry="0.95"/><ellipse cx="459.05" cy="384.1" rx="1.35" ry="1.82"/><ellipse cx="436.3" cy="321.5" rx="1.45" ry="1.55"/><ellipse cx="476.38" cy="479.31" rx="1.04" ry="1.33"/><ellipse cx="476.15" cy="424.07" rx="1.1" ry="1.25"/><ellipse cx="503.98" cy="466.65" rx="1.1" ry="1.64"/><ellipse cx="508.99" cy="331.13" rx="1.36" ry="1.41"/><ellipse cx="447.75" cy="345.97" rx="1.6" ry="1.21"/><ellipse cx="508.28" cy="334.15" rx="1.51" ry="1.41"/><ellipse cx="462.02" cy="467.59" rx="1.62" ry="1.53"/><ellipse cx="495.5" cy="384.55" rx="1.05" ry="1.09"/><ellipse cx="500.84" cy="405.67" rx="1.25" ry="1.41"/><ellipse cx="461.58" cy="472.76" rx="1.32" ry="1.38"/><ellipse cx="487.05" cy="336.7" rx="1.33" ry="1.61"/><ellipse cx="496.49" cy="444.58" rx="0.94" ry="1.2"/><ellipse cx="465" cy="393.76" rx="2.61" ry="2.9"/><ellipse cx="462.62" cy="475.63" rx="1.24" ry="1.7"/><ellipse cx="464.29" cy="349.72" rx="1.53" ry="1.68"/><ellipse cx="436.67" cy="351.18" rx="1.49" ry="1.19"/><ellipse cx="450.66" cy="414.41" rx="1.46" ry="1.03"/><ellipse cx="464.95" cy="343.04" rx="1.33" ry="1.03"/><ellipse cx="483.6" cy="365.82" rx="1.07" ry="1.67"/><ellipse cx="476.84" cy="410.06" rx="1.87" ry="2.48"/><ellipse cx="438.62" cy="442.95" rx="1.08" ry="1.09"/><ellipse cx="471.76" cy="334.61" rx="1.16" ry="1.6"/><ellipse cx="484.95" cy="342" rx="1.23" ry="1.52"/><ellipse cx="468.94" cy="451.87" rx="1.23" ry="1.09"/><ellipse cx="499.13" cy="339.89" rx="1.52" ry="1.42"/><ellipse cx="438.89" cy="367.46" rx="2.09" ry="1.41"/><ellipse cx="450.26" cy="478.3" rx="1.36" ry="1.33"/><ellipse cx="490.82" cy="386.05" rx="1.24" ry="1.13"/><ellipse cx="461.99" cy="340.83" rx="1.29" ry="1.09"/><ellipse cx="434.73" cy="327.83" rx="1.39" ry="1.83"/><ellipse cx="459.03" cy="344.25" rx="1.15" ry="1.17"/><ellipse cx="456.62" cy="425.79" rx="1.59" ry="1.35"/><ellipse cx="491.57" cy="413.51" rx="1.53" ry="1.11"/><ellipse cx="487.84" cy="454.68" rx="0.96" ry="1.11"/><ellipse cx="471.57" cy="451.31" rx="1.03" ry="1.29"/><ellipse cx="462.46" cy="440.99" rx="1.46" ry="0.96"/><ellipse cx="456.71" cy="359.28" rx="1.84" ry="2.3"/><ellipse cx="470.96" cy="325.43" rx="1.21" ry="1.53"/><ellipse cx="496.88" cy="364.05" rx="1.24" ry="1.26"/><ellipse cx="498.92" cy="486.43" rx="1.99" ry="1.84"/><ellipse cx="452.88" cy="322.01" rx="0.93" ry="0.98"/><ellipse cx="465.68" cy="432.75" rx="1.14" ry="1.4"/><ellipse cx="454.27" cy="385.97" rx="1.39" ry="1.24"/><ellipse cx="463.58" cy="378.5" rx="1.03" ry="1.19"/><ellipse cx="442.82" cy="331.19" rx="1.21" ry="0.93"/><ellipse cx="501.13" cy="473.75" rx="1.24" ry="1.28"/><ellipse cx="475.45" cy="435.82" rx="1.08" ry="1.41"/><ellipse cx="490.45" cy="333.85" rx="1.34" ry="1.09"/><ellipse cx="432.39" cy="326.03" rx="1.54" ry="1.65"/><ellipse cx="499.97" cy="434.91" rx="1.15" ry="1.4"/><ellipse cx="492.57" cy="422.51" rx="1.44" ry="1.44"/><ellipse cx="466.73" cy="477.89" rx="1.33" ry="1.81"/><ellipse cx="412.54" cy="315.81" rx="1.24" ry="1.22"/><ellipse cx="505.98" cy="438.87" rx="1.89" ry="1.77"/><ellipse cx="444.72" cy="406.39" rx="1.35" ry="1.69"/><ellipse cx="497.17" cy="350.32" rx="1.75" ry="1.18"/><ellipse cx="468.87" cy="363.72" rx="1.48" ry="1.74"/><ellipse cx="497.61" cy="473.62" rx="1.9" ry="1.86"/><ellipse cx="492.4" cy="383.69" rx="1.29" ry="1.26"/><ellipse cx="498.48" cy="378.81" rx="1.41" ry="1.92"/><ellipse cx="469.72" cy="331.65" rx="1.92" ry="1.67"/><ellipse cx="495.55" cy="487.2" rx="1.56" ry="1.23"/><ellipse cx="499.7" cy="421.44" rx="1.34" ry="1.08"/><ellipse cx="503.6" cy="489.98" rx="1.61" ry="1.38"/><ellipse cx="482.57" cy="509.89" rx="0.82" ry="1.22"/><ellipse cx="486.61" cy="363.89" rx="0.89" ry="0.85"/><ellipse cx="482.55" cy="336.35" rx="0.91" ry="1.38"/><ellipse cx="452.73" cy="398.99" rx="1.24" ry="1.67"/><ellipse cx="470.38" cy="417.66" rx="1.34" ry="1.49"/><ellipse cx="484.65" cy="440.84" rx="1.31" ry="1.23"/><ellipse cx="493.87" cy="359.77" rx="1.47" ry="1.36"/><ellipse cx="452.85" cy="435.09" rx="1.39" ry="1.51"/><ellipse cx="501.47" cy="350.49" rx="1.01" ry="1.02"/><ellipse cx="453.68" cy="391.34" rx="1.3" ry="0.84"/><ellipse cx="497.89" cy="399.87" rx="1.63" ry="1.38"/><ellipse cx="476.45" cy="416.95" rx="1.57" ry="1.46"/><ellipse cx="463.67" cy="433.33" rx="1.03" ry="1.06"/><ellipse cx="500.08" cy="367.15" rx="1.14" ry="1.24"/><ellipse cx="483.88" cy="406" rx="1.82" ry="1.94"/><ellipse cx="476.6" cy="361.77" rx="1.1" ry="1.12"/><ellipse cx="493.77" cy="430.76" rx="1.43" ry="1.48"/><ellipse cx="465.7" cy="483.16" rx="1.32" ry="0.86"/><ellipse cx="483.37" cy="392.93" rx="1.5" ry="1.03"/><ellipse cx="456.8" cy="470.32" rx="2.01" ry="2.11"/><ellipse cx="493.09" cy="338.39" rx="1.2" ry="1.26"/><ellipse cx="503.25" cy="356.8" rx="1.93" ry="1.93"/></g></g>
<use href="#blobs" fill="#f0487a" stroke="#b01f96" stroke-width="0.5"/>
<g fill="#74189a"><ellipse cx="344" cy="329.5" rx="1" ry="1.24"/><ellipse cx="311.7" cy="364" rx="1.1" ry="1.54"/><ellipse cx="315" cy="369.4" rx="1.04" ry="1.29"/><ellipse cx="413.7" cy="423.7" rx="1" ry="1.35"/><ellipse cx="303" cy="473.6" rx="1.01" ry="1.55"/><ellipse cx="307.4" cy="491" rx="0.94" ry="1.62"/><ellipse cx="309.5" cy="499.7" rx="1.14" ry="1.71"/><ellipse cx="333.4" cy="460.6" rx="0.85" ry="1.83"/><ellipse cx="337.7" cy="480" rx="0.88" ry="1.32"/><ellipse cx="346.4" cy="486.6" rx="1.2" ry="1.26"/><ellipse cx="361.6" cy="458.4" rx="1.15" ry="1.61"/><ellipse cx="415.9" cy="486.6" rx="0.86" ry="1.12"/><ellipse cx="411.5" cy="465" rx="1.16" ry="1.2"/><ellipse cx="442" cy="473.6" rx="0.95" ry="1.88"/><ellipse cx="444" cy="484.5" rx="1.14" ry="1.6"/><ellipse cx="407" cy="512.7" rx="1.05" ry="1.69"/><ellipse cx="400.7" cy="512.7" rx="1.08" ry="1.12"/><ellipse cx="320" cy="388" rx="0.87" ry="1.55"/><ellipse cx="330" cy="425" rx="0.9" ry="1.6"/><ellipse cx="352" cy="470" rx="0.87" ry="1.53"/><ellipse cx="318" cy="452" rx="1.06" ry="1.63"/><ellipse cx="385" cy="512" rx="0.86" ry="1.89"/><ellipse cx="372" cy="500" rx="1.12" ry="1.47"/><ellipse cx="426" cy="500" rx="1.07" ry="1.63"/><ellipse cx="365" cy="487" rx="1.2" ry="1.82"/><ellipse cx="436" cy="447" rx="1.13" ry="1.64"/><ellipse cx="350" cy="505" rx="0.97" ry="1.42"/><ellipse cx="354.87" cy="376" rx="0.91" ry="2.19"/><ellipse cx="355.41" cy="379.54" rx="1.13" ry="1.84"/><ellipse cx="356" cy="381.84" rx="0.83" ry="1.98"/><ellipse cx="357" cy="385.6" rx="1.2" ry="1.64"/><ellipse cx="359.66" cy="389.2" rx="0.94" ry="2.21"/><ellipse cx="357.99" cy="391.67" rx="0.85" ry="1.81"/><ellipse cx="324.49" cy="404.37" rx="0.82" ry="1.22"/><ellipse cx="325.36" cy="410.04" rx="1.06" ry="2.04"/><ellipse cx="327.1" cy="414.74" rx="0.94" ry="1.21"/><ellipse cx="365.36" cy="412.8" rx="0.82" ry="1.49"/><ellipse cx="366.86" cy="414.57" rx="1.19" ry="2.19"/><ellipse cx="368.55" cy="418.92" rx="0.86" ry="1.9"/><ellipse cx="370.14" cy="421.85" rx="0.92" ry="1.32"/><ellipse cx="370.27" cy="424.09" rx="1.2" ry="1.29"/><ellipse cx="371.88" cy="428.82" rx="1.08" ry="1.93"/><ellipse cx="371.01" cy="430.21" rx="0.97" ry="1.33"/><ellipse cx="373.04" cy="433.13" rx="1.01" ry="1.21"/><ellipse cx="375.05" cy="436.29" rx="1" ry="2.1"/><ellipse cx="380.47" cy="454.48" rx="0.93" ry="1.88"/><ellipse cx="382.22" cy="458.87" rx="1" ry="1.2"/><ellipse cx="383.31" cy="461.75" rx="1.16" ry="1.45"/><ellipse cx="386.18" cy="463.97" rx="1.15" ry="2.28"/><ellipse cx="388.71" cy="467.63" rx="0.81" ry="2.09"/><ellipse cx="388.31" cy="471.25" rx="1.24" ry="1.36"/><ellipse cx="390.16" cy="474.02" rx="1.06" ry="1.25"/><ellipse cx="395.49" cy="486.67" rx="0.88" ry="2.26"/><ellipse cx="397.77" cy="491.41" rx="0.81" ry="1.34"/><ellipse cx="398.46" cy="494.43" rx="1.24" ry="2.08"/><ellipse cx="398.48" cy="497.02" rx="1.27" ry="1.22"/><ellipse cx="400.05" cy="499.13" rx="1.26" ry="2.17"/><ellipse cx="401.92" cy="503.09" rx="1.25" ry="1.52"/><ellipse cx="309.45" cy="436.89" rx="1.05" ry="1.37"/><ellipse cx="339.38" cy="478.22" rx="0.96" ry="1.92"/><ellipse cx="342.17" cy="484.72" rx="0.93" ry="1.28"/><ellipse cx="356.25" cy="441.59" rx="0.92" ry="1.85"/><ellipse cx="357.59" cy="444.89" rx="0.86" ry="1.43"/></g>
<g fill="#8a80c8" stroke="#4a1ea0" stroke-width="0.8"><ellipse cx="355.94" cy="380.41" rx="1.89" ry="2.44"/><ellipse cx="374.36" cy="434.5" rx="1.6" ry="1.7"/><ellipse cx="369.88" cy="427" rx="1.86" ry="1.7"/><ellipse cx="387.95" cy="467.2" rx="1.63" ry="1.72"/><ellipse cx="384.25" cy="462.25" rx="1.75" ry="2.49"/><ellipse cx="401.9" cy="498.76" rx="1.67" ry="2.32"/><ellipse cx="402.12" cy="500.18" rx="1.38" ry="2.56"/><ellipse cx="311.27" cy="438.96" rx="1.46" ry="1.88"/><ellipse cx="341.61" cy="484.41" rx="1.36" ry="2.22"/></g>
<ellipse cx="393.6" cy="313" rx="2.6" ry="3.4" fill="#8a60c0" stroke="#5a1ea0" stroke-width="1"/>
</g>
<rect x="476.8" y="507.5" width="22" height="3" fill="#fff"/>
</g>
<g id="ph">
<text x="522.2" y="310.6" font-size="16" stroke="#1a1a1a" stroke-width="0.15">h</text>
<rect x="558.2" y="309.8" width="237.2" height="181.4" fill="#fff" stroke="#3a3a3a" stroke-width="1.2"/>
<text x="558.5" y="503.9" font-size="12.4" text-anchor="middle">3100</text>
<path d="M558.5 491.2 V488.4" stroke="#333" stroke-width="0.9"/>
<text x="617.5" y="503.9" font-size="12.4" text-anchor="middle">3000</text>
<path d="M617.5 491.2 V488.4" stroke="#333" stroke-width="0.9"/>
<text x="676.5" y="503.9" font-size="12.4" text-anchor="middle">2900</text>
<path d="M676.5 491.2 V488.4" stroke="#333" stroke-width="0.9"/>
<text x="735.6" y="503.9" font-size="12.4" text-anchor="middle">2800</text>
<path d="M735.6 491.2 V488.4" stroke="#333" stroke-width="0.9"/>
<text x="801" y="503.9" font-size="12.4" text-anchor="end">2700</text>
<text x="677.5" y="515.2" font-size="12.4" text-anchor="middle">Wavenumber (cm<tspan font-size="7" dy="-4.4">-1</tspan><tspan dy="4.4">)</tspan></text>
<text transform="translate(551.5 408.8) rotate(-90)" font-size="12.4" text-anchor="middle">Absorption (arb. units)</text>
<path d="M697 320.6 H721.6" stroke="#e99ea2" stroke-width="1.5"/>
<path d="M697 336 H721.6" stroke="#9496c4" stroke-width="1.5"/>
<text x="735" y="324.5" font-size="12.2">As-printed</text>
<text x="735" y="340" font-size="12.2">After L-E</text>
<text x="668.8" y="354.4" font-size="13.8" text-anchor="middle">C-H</text>
<path d="M558.5 437.3 C559.58 437.52 562.82 438 565 438.6 C567.18 439.2 569.6 440.75 571.6 440.9 C573.6 441.05 575.1 439.98 577 439.5 C578.9 439.02 580.83 438.15 583 438 C585.17 437.85 587.67 438.77 590 438.6 C592.33 438.43 594.4 437.43 597 437 C599.6 436.57 603.1 436.57 605.6 436 C608.1 435.43 609.95 434.37 612 433.6 C614.05 432.83 616.23 431.5 617.9 431.4 C619.57 431.3 620.65 432.57 622 433 C623.35 433.43 624.5 434.03 626 434 C627.5 433.97 629.27 433.38 631 432.8 C632.73 432.22 634.9 431.97 636.4 430.5 C637.9 429.03 638.73 426.65 640 424 C641.27 421.35 642.67 416.77 644 414.6 C645.33 412.43 646.83 411.93 648 411 C649.17 410.07 650 410.17 651 409 C652 407.83 652.88 406.08 654 404 C655.12 401.92 656.53 400 657.7 396.5 C658.87 393 659.87 387.92 661 383 C662.13 378.08 663.5 370.83 664.5 367 C665.5 363.17 666.25 361.5 667 360 C667.75 358.5 668.33 357.33 669 358 C669.67 358.67 670.23 360.6 671 364 C671.77 367.4 672.77 374.4 673.6 378.4 C674.43 382.4 675.1 384.62 676 388 C676.9 391.38 678 395.7 679 398.7 C680 401.7 681 403.88 682 406 C683 408.12 683.92 410.07 685 411.4 C686.08 412.73 687.23 413.32 688.5 414 C689.77 414.68 691.35 415.42 692.6 415.5 C693.85 415.58 694.78 415.03 696 414.5 C697.22 413.97 698.82 413.88 699.9 412.3 C700.98 410.72 701.6 407.63 702.5 405 C703.4 402.37 704.55 398.5 705.3 396.5 C706.05 394.5 706.47 393.68 707 393 C707.53 392.32 707.92 391.9 708.5 392.4 C709.08 392.9 709.75 394.18 710.5 396 C711.25 397.82 712.08 400.3 713 403.3 C713.92 406.3 715.02 410.6 716 414 C716.98 417.4 717.9 421.03 718.9 423.7 C719.9 426.37 720.87 428.35 722 430 C723.13 431.65 724.53 432.8 725.7 433.6 C726.87 434.4 727.87 434.57 729 434.8 C730.13 435.03 731.33 435.3 732.5 435 C733.67 434.7 734.87 433.6 736 433 C737.13 432.4 737.8 431.4 739.3 431.4 C740.8 431.4 743.12 432.57 745 433 C746.88 433.43 748.1 433.63 750.6 434 C753.1 434.37 756.98 434.88 760 435.2 C763.02 435.52 766.2 435.87 768.7 435.9 C771.2 435.93 773.12 435.55 775 435.4 C776.88 435.25 778.58 434.97 780 435 C781.42 435.03 782.35 435.15 783.5 435.6 C784.65 436.05 785.82 437.08 786.9 437.7 C787.98 438.32 788.72 438.85 790 439.3 C791.28 439.75 793.83 440.22 794.6 440.4" stroke="#e8979b" stroke-width="1.5" fill="none"/>
<path d="M558.5 462.2 C559.25 462.47 561.33 463.2 563 463.8 C564.67 464.4 566.67 465.57 568.5 465.8 C570.33 466.03 571.97 465.43 574 465.2 C576.03 464.97 578.37 464.4 580.7 464.4 C583.03 464.4 585.45 465.22 588 465.2 C590.55 465.18 593.33 464.33 596 464.3 C598.67 464.27 601.33 464.78 604 465 C606.67 465.22 608.72 465.32 612 465.6 C615.28 465.88 620.37 466.63 623.7 466.7 C627.03 466.77 629.78 466.2 632 466 C634.22 465.8 635.35 465.83 637 465.5 C638.65 465.17 640.07 464.12 641.9 464 C643.73 463.88 645.82 464.72 648 464.8 C650.18 464.88 653 464.73 655 464.5 C657 464.27 658 463.52 660 463.4 C662 463.28 664.73 463.87 667 463.8 C669.27 463.73 671.43 463.07 673.6 463 C675.77 462.93 677.6 463.45 680 463.4 C682.4 463.35 686 463.07 688 462.7 C690 462.33 690.67 461.43 692 461.2 C693.33 460.97 694.5 461.13 696 461.3 C697.5 461.47 699.17 462.13 701 462.2 C702.83 462.27 705 461.68 707 461.7 C709 461.72 711 462.25 713 462.3 C715 462.35 717.17 462.25 719 462 C720.83 461.75 722.5 461.38 724 460.8 C725.5 460.22 726.58 459.03 728 458.5 C729.42 457.97 731 457.48 732.5 457.6 C734 457.72 735.5 458.97 737 459.2 C738.5 459.43 740 459.3 741.5 459 C743 458.7 744.58 457.68 746 457.4 C747.42 457.12 748.5 457.42 750 457.3 C751.5 457.18 753 456.83 755 456.7 C757 456.57 759.67 456.58 762 456.5 C764.33 456.42 766.75 456.32 769 456.2 C771.25 456.08 773.83 456.08 775.5 455.8 C777.17 455.52 778.02 454.87 779 454.5 C779.98 454.13 780.57 453.52 781.4 453.6 C782.23 453.68 783.08 454.63 784 455 C784.92 455.37 785.13 455.67 786.9 455.8 C788.67 455.93 793.32 455.8 794.6 455.8" stroke="#9496c6" stroke-width="1.4" fill="none"/>
</g>
</svg></body></html>
